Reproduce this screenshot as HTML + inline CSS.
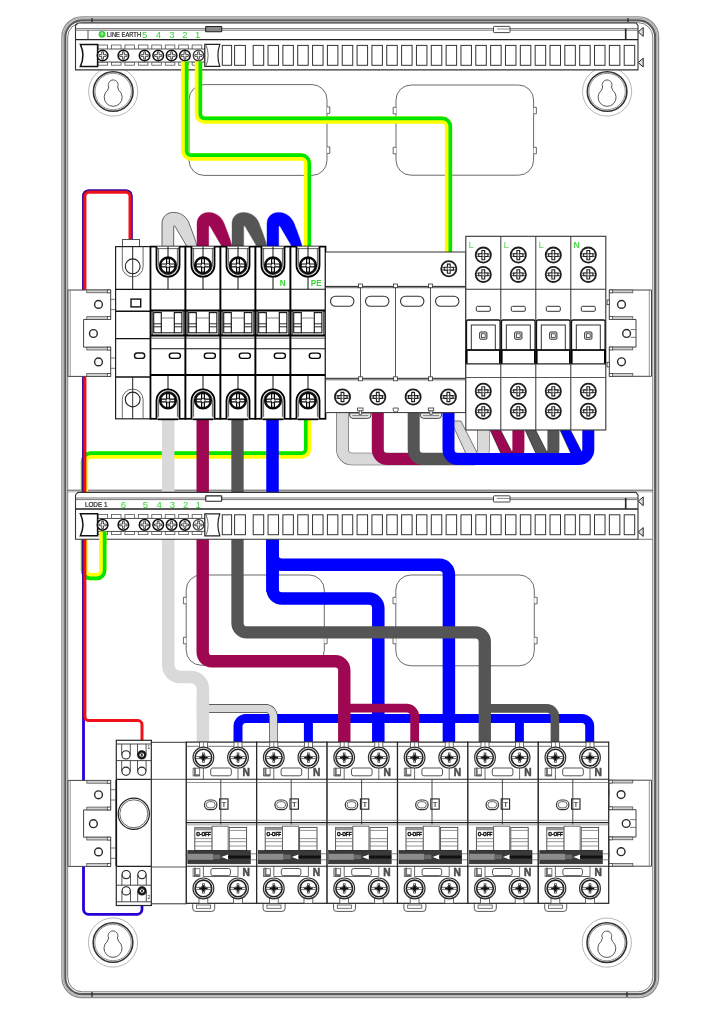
<!DOCTYPE html>
<html lang="en"><head><meta charset="utf-8"><title>Wiring diagram</title>
<style>html,body{margin:0;padding:0;background:#fff}svg{display:block;will-change:transform}</style></head>
<body>
<svg width="724" height="1024" viewBox="0 0 724 1024" font-family="'Liberation Sans', sans-serif">
<rect width="724" height="1024" fill="#fff"/>
<rect x="61.9" y="16.9" width="596.7" height="980.7" rx="20" fill="#fff" stroke="#8c8c8c" stroke-width="1.3"/>
<rect x="63.4" y="18.4" width="593.7" height="977.7" rx="18.6" fill="none" stroke="#b0b0b0" stroke-width="1.4"/>
<rect x="65.3" y="20.3" width="589.9" height="973.9" rx="16.8" fill="none" stroke="#5a5a5a" stroke-width="2.2"/>
<rect x="67.7" y="22.7" width="585.1" height="969.1" rx="14.5" fill="none" stroke="#6a6a6a" stroke-width="0.9"/>
<line x1="92" y1="18" x2="92" y2="22" stroke="#222" stroke-width="1.2"/>
<line x1="92" y1="992" x2="92" y2="997" stroke="#222" stroke-width="1.2"/>
<line x1="628" y1="18" x2="628" y2="22" stroke="#222" stroke-width="1.2"/>
<line x1="627" y1="992" x2="627" y2="997" stroke="#222" stroke-width="1.2"/>
<line x1="67.5" y1="490.2" x2="653" y2="490.2" stroke="#444" stroke-width="0.9"/>
<line x1="67.5" y1="491.9" x2="653" y2="491.9" stroke="#888" stroke-width="0.7"/>
<rect x="189" y="84.6" width="138" height="90.8" rx="15" fill="none" stroke="#444" stroke-width="0.8"/>
<path d="M327,106.9 h2.8 v6.5 h-2.8" fill="#fff" stroke="#444" stroke-width="0.8"/>
<path d="M327,146.9 h2.8 v6.5 h-2.8" fill="#fff" stroke="#444" stroke-width="0.8"/>
<rect x="396" y="85" width="137.6" height="90.2" rx="15" fill="none" stroke="#444" stroke-width="0.8"/>
<path d="M396,107.3 h-2.8 v6.5 h2.8" fill="#fff" stroke="#444" stroke-width="0.8"/>
<path d="M533.6,107.3 h2.8 v6.5 h-2.8" fill="#fff" stroke="#444" stroke-width="0.8"/>
<path d="M396,147.3 h-2.8 v6.5 h2.8" fill="#fff" stroke="#444" stroke-width="0.8"/>
<path d="M533.6,147.3 h2.8 v6.5 h-2.8" fill="#fff" stroke="#444" stroke-width="0.8"/>
<rect x="186.2" y="575" width="138.1" height="90.2" rx="15" fill="none" stroke="#444" stroke-width="0.8"/>
<path d="M186.2,597.3 h-2.8 v6.5 h2.8" fill="#fff" stroke="#444" stroke-width="0.8"/>
<path d="M324.3,597.3 h2.8 v6.5 h-2.8" fill="#fff" stroke="#444" stroke-width="0.8"/>
<path d="M186.2,637.3 h-2.8 v6.5 h2.8" fill="#fff" stroke="#444" stroke-width="0.8"/>
<path d="M324.3,637.3 h2.8 v6.5 h-2.8" fill="#fff" stroke="#444" stroke-width="0.8"/>
<rect x="395.8" y="575" width="138.5" height="90.8" rx="15" fill="none" stroke="#444" stroke-width="0.8"/>
<path d="M395.8,597.3 h-2.8 v6.5 h2.8" fill="#fff" stroke="#444" stroke-width="0.8"/>
<path d="M534.3,597.3 h2.8 v6.5 h-2.8" fill="#fff" stroke="#444" stroke-width="0.8"/>
<path d="M395.8,637.3 h-2.8 v6.5 h2.8" fill="#fff" stroke="#444" stroke-width="0.8"/>
<path d="M534.3,637.3 h2.8 v6.5 h-2.8" fill="#fff" stroke="#444" stroke-width="0.8"/>
<circle cx="113.2" cy="91.5" r="24.6" fill="none" stroke="#999" stroke-width="0.7"/>
<circle cx="113.2" cy="91.5" r="19.8" fill="none" stroke="#333" stroke-width="1.6"/>
<circle cx="113.2" cy="91.5" r="18.2" fill="none" stroke="#666" stroke-width="0.7"/>
<path d="M108.8,87 A4.9,4.9 0 1 1 117.6,87 L118.8,90.3 A9,9 0 1 1 107.6,90.3 Z" fill="#fff" stroke="#444" stroke-width="0.9"/>
<circle cx="607.1" cy="91.5" r="24.6" fill="none" stroke="#999" stroke-width="0.7"/>
<circle cx="607.1" cy="91.5" r="19.8" fill="none" stroke="#333" stroke-width="1.6"/>
<circle cx="607.1" cy="91.5" r="18.2" fill="none" stroke="#666" stroke-width="0.7"/>
<path d="M602.7,87 A4.9,4.9 0 1 1 611.5,87 L612.7,90.3 A9,9 0 1 1 601.5,90.3 Z" fill="#fff" stroke="#444" stroke-width="0.9"/>
<circle cx="113" cy="942.5" r="24.6" fill="none" stroke="#999" stroke-width="0.7"/>
<circle cx="113" cy="942.5" r="19.8" fill="none" stroke="#333" stroke-width="1.6"/>
<circle cx="113" cy="942.5" r="18.2" fill="none" stroke="#666" stroke-width="0.7"/>
<path d="M108.6,938 A4.9,4.9 0 1 1 117.4,938 L118.6,941.3 A9,9 0 1 1 107.4,941.3 Z" fill="#fff" stroke="#444" stroke-width="0.9"/>
<circle cx="606.8" cy="942.6" r="24.6" fill="none" stroke="#999" stroke-width="0.7"/>
<circle cx="606.8" cy="942.6" r="19.8" fill="none" stroke="#333" stroke-width="1.6"/>
<circle cx="606.8" cy="942.6" r="18.2" fill="none" stroke="#666" stroke-width="0.7"/>
<path d="M602.4,938.1 A4.9,4.9 0 1 1 611.2,938.1 L612.4,941.4 A9,9 0 1 1 601.2,941.4 Z" fill="#fff" stroke="#444" stroke-width="0.9"/>
<path d="M307.6,418 L307.6,449 A6,6 0 0 1 301.6,455 L90.5,455 A6,6 0 0 0 84.5,461 L84.5,570.6 A6,6 0 0 0 90.5,576.6 L96.8,576.6 A6,6 0 0 0 102.8,570.6 L102.8,540" fill="none" stroke="#ffff00" stroke-width="7.3" stroke-linecap="butt"/>
<path d="M305.78,418 L305.78,449 A4.17,4.17 0 0 1 301.6,453.18 L90.5,453.18 A7.83,7.83 0 0 0 82.67,461 L82.67,570.6 A7.83,7.83 0 0 0 90.5,578.43 L96.8,578.43 A7.83,7.83 0 0 0 104.62,570.6 L104.62,540" fill="none" stroke="#00e600" stroke-width="3.65"/>
<path d="M131.2,240 L131.2,195.9 A5,5 0 0 0 126.2,190.9 L88.5,190.9 A5,5 0 0 0 83.5,195.9 L83.5,909.3 A5,5 0 0 0 88.5,914.3 L137,914.3 A5,5 0 0 0 142,909.3 L142,896" fill="none" stroke="#2a00d8" stroke-width="2.8" stroke-linecap="butt"/>
<path d="M131.2,240 L131.2,195.9 A5,5 0 0 0 126.2,190.9 L88.5,190.9 A5,5 0 0 0 83.5,195.9 L83.5,718" fill="none" stroke="#4b0a8c" stroke-width="2.8" stroke-linecap="butt"/>
<path d="M130,240 L130,196.3 A4,4 0 0 0 126,192.3 L88.9,192.3 A4,4 0 0 0 84.9,196.3 L84.9,716.6 A4,4 0 0 0 88.9,720.6 L138,720.6 A4,4 0 0 1 142,724.6 L142,750" fill="none" stroke="#f0101a" stroke-width="3" stroke-linecap="butt"/>
<path d="M162,247 L162,224 C162,216.5 167,212.4 173.6,212.4 C182,212.4 187.5,218 189.7,225 C192,231 195.6,240 197.2,247 L187.2,247 L175.2,226.6 Q173.7,224.2 173.7,228 L173.7,247 Z" fill="#d9d9d9" stroke="#555" stroke-width="0.9"/>
<path d="M197,247 L197,224 C197,216.5 202,212.4 208.6,212.4 C217,212.4 222.5,218 224.7,225 C227,231 230.6,240 232.2,247 L222.2,247 L210.2,226.6 Q208.7,224.2 208.7,228 L208.7,247 Z" fill="#9e0852" stroke="#9e0852" stroke-width="0.4"/>
<path d="M232,247 L232,224 C232,216.5 237,212.4 243.6,212.4 C252,212.4 257.5,218 259.7,225 C262,231 265.6,240 267.2,247 L257.2,247 L245.2,226.6 Q243.7,224.2 243.7,228 L243.7,247 Z" fill="#555555" stroke="#555555" stroke-width="0.4"/>
<path d="M267,247 L267,224 C267,216.5 272,212.4 278.6,212.4 C287,212.4 292.5,218 294.7,225 C297,231 300.6,240 302.2,247 L292.2,247 L280.2,226.6 Q278.7,224.2 278.7,228 L278.7,247 Z" fill="#0000ff" stroke="#0000ff" stroke-width="0.4"/>
<path d="M184.8,60 L184.8,151 A6,6 0 0 0 190.8,157 L301.5,157 A6,6 0 0 1 307.5,163 L307.5,247" fill="none" stroke="#ffff00" stroke-width="7.3" stroke-linecap="butt"/>
<path d="M186.62,60 L186.62,151 A4.17,4.17 0 0 0 190.8,155.18 L301.5,155.18 A7.83,7.83 0 0 1 309.32,163 L309.32,247" fill="none" stroke="#00e600" stroke-width="3.65"/>
<path d="M198.5,60 L198.5,114.2 A6,6 0 0 0 204.5,120.2 L442.5,120.2 A6,6 0 0 1 448.5,126.2 L448.5,252.5" fill="none" stroke="#ffff00" stroke-width="7.3" stroke-linecap="butt"/>
<path d="M200.32,60 L200.32,114.2 A4.17,4.17 0 0 0 204.5,118.38 L442.5,118.38 A7.83,7.83 0 0 1 450.32,126.2 L450.32,252.5" fill="none" stroke="#00e600" stroke-width="3.65"/>
<path d="M342.5,412 L342.5,449.5 A9.5,9.5 0 0 0 352,459 L473.8,459 A9.5,9.5 0 0 0 483.3,449.5 L483.3,428" fill="none" stroke="#555" stroke-width="12.6" stroke-linecap="butt"/>
<path d="M342.5,412 L342.5,449.5 A9.5,9.5 0 0 0 352,459 L473.8,459 A9.5,9.5 0 0 0 483.3,449.5 L483.3,428" fill="none" stroke="#d9d9d9" stroke-width="11.4" stroke-linecap="butt"/>
<path d="M450.9,421 L460.9,421 L477.7,454 L466.1,454 Z" fill="#d9d9d9" stroke="#444" stroke-width="0.7"/>
<path d="M377.8,412 L377.8,449.5 A9.5,9.5 0 0 0 387.3,459 L508.9,459 A9.5,9.5 0 0 0 518.4,449.5 L518.4,428" fill="none" stroke="#9e0852" stroke-width="12" stroke-linecap="butt"/>
<path d="M486,421 L496,421 L512.8,454 L501.2,454 Z" fill="#9e0852" stroke="#222" stroke-width="0.7"/>
<path d="M413.7,412 L413.7,449.5 A9.5,9.5 0 0 0 423.2,459 L543.9,459 A9.5,9.5 0 0 0 553.4,449.5 L553.4,428" fill="none" stroke="#555555" stroke-width="12" stroke-linecap="butt"/>
<path d="M521,421 L531,421 L547.8,454 L536.2,454 Z" fill="#555555" stroke="#222" stroke-width="0.7"/>
<path d="M555.9,421 L565.9,421 L582.7,454 L571.1,454 Z" fill="#0000ff" stroke="#222" stroke-width="0.7"/>
<path d="M448.5,412 L448.5,449.5 A9.5,9.5 0 0 0 458,459 L578.8,459 A9.5,9.5 0 0 0 588.3,449.5 L588.3,428" fill="none" stroke="#0000ff" stroke-width="12" stroke-linecap="butt"/>
<path d="M272.5,418 L272.5,589.1 A9.5,9.5 0 0 0 282,598.6 L368.8,598.6 A9.5,9.5 0 0 1 378.3,608.1 L378.3,743" fill="none" stroke="#0000ff" stroke-width="12.5" stroke-linecap="butt"/>
<path d="M272.5,540 L272.5,555.3 A9.5,9.5 0 0 0 282,564.8 L439.4,564.8 A9.5,9.5 0 0 1 448.9,574.3 L448.9,743" fill="none" stroke="#0000ff" stroke-width="12.5" stroke-linecap="butt"/>
<rect x="266.25" y="540" width="12.5" height="52" rx="0" fill="#0000ff" stroke="none" stroke-width="0"/>
<path d="M238,743 L238,726.4 A8,8 0 0 1 246,718.4 L581.7,718.4 A8,8 0 0 1 589.7,726.4 L589.7,743" fill="none" stroke="#0000ff" stroke-width="9" stroke-linecap="butt"/>
<path d="M308.4,743 L308.4,718.4" fill="none" stroke="#0000ff" stroke-width="9" stroke-linecap="butt"/>
<path d="M519.4,743 L519.4,718.4" fill="none" stroke="#0000ff" stroke-width="9" stroke-linecap="butt"/>
<path d="M168.2,418 L168.2,665 A12,12 0 0 0 180.2,677 L190.9,677 A12,12 0 0 1 202.9,689 L202.9,743" fill="none" stroke="#d9d9d9" stroke-width="12.5" stroke-linecap="butt"/>
<path d="M205,708.4 L265.4,708.4 A8,8 0 0 1 273.4,716.4 L273.4,743" fill="none" stroke="#333" stroke-width="8.6" stroke-linecap="butt"/>
<path d="M205,708.4 L265.4,708.4 A8,8 0 0 1 273.4,716.4 L273.4,743" fill="none" stroke="#d9d9d9" stroke-width="7.4" stroke-linecap="butt"/>
<rect x="196.7" y="700" width="12.4" height="16" rx="0" fill="#d9d9d9" stroke="none" stroke-width="0"/>
<path d="M202.7,418 L202.7,652.3 A9,9 0 0 0 211.7,661.3 L335.3,661.3 A9,9 0 0 1 344.3,670.3 L344.3,743" fill="none" stroke="#9e0852" stroke-width="12.4" stroke-linecap="butt"/>
<path d="M344.3,708.2 L406.7,708.2 A8,8 0 0 1 414.7,716.2 L414.7,743" fill="none" stroke="#9e0852" stroke-width="8.8" stroke-linecap="butt"/>
<path d="M237.5,418 L237.5,622.9 A9.5,9.5 0 0 0 247,632.4 L475.3,632.4 A9.5,9.5 0 0 1 484.8,641.9 L484.8,743" fill="none" stroke="#555555" stroke-width="12.3" stroke-linecap="butt"/>
<path d="M484.8,708.4 L546.9,708.4 A8,8 0 0 1 554.9,716.4 L554.9,743" fill="none" stroke="#555555" stroke-width="8.6" stroke-linecap="butt"/>
<path d="M78,23 L636,23 L638,25.5 L638,69.9 L75.5,69.9 L75.5,25.5 Z" fill="#fff" stroke="#333" stroke-width="1.1"/>
<line x1="75.5" y1="28.6" x2="638" y2="28.6" stroke="#555" stroke-width="0.8"/>
<line x1="75.5" y1="30.2" x2="638" y2="30.2" stroke="#555" stroke-width="0.8"/>
<line x1="75.5" y1="39.6" x2="638" y2="39.6" stroke="#222" stroke-width="1.4"/>
<line x1="88" y1="30.2" x2="88" y2="39.6" stroke="#444" stroke-width="0.9"/>
<line x1="625.7" y1="28.6" x2="625.7" y2="39.6" stroke="#222" stroke-width="1.6"/>
<path d="M638.2,31.9 l5,-4.4 v8.8 z" fill="#e4e4e4" stroke="#222" stroke-width="1"/>
<path d="M638.2,62.6 l5,-4.4 v8.8 z" fill="#e4e4e4" stroke="#222" stroke-width="1"/>
<rect x="205.7" y="26.5" width="16" height="5.3" rx="0.5" fill="#888" stroke="#222" stroke-width="1.1"/>
<rect x="493.5" y="26.4" width="16.5" height="6.2" rx="0.8" fill="#fff" stroke="#333" stroke-width="0.9"/>
<line x1="497" y1="29" x2="510" y2="29" stroke="#555" stroke-width="0.7"/>
<rect x="222.3" y="45.4" width="9.3" height="19.9" rx="0" fill="none" stroke="#333" stroke-width="1"/>
<rect x="234.6" y="45.4" width="10.8" height="19.9" rx="0" fill="none" stroke="#333" stroke-width="1"/>
<rect x="253.2" y="45.4" width="10.5" height="19.9" rx="0" fill="none" stroke="#333" stroke-width="1"/>
<rect x="268.04" y="45.4" width="10.5" height="19.9" rx="0" fill="none" stroke="#333" stroke-width="1"/>
<rect x="282.88" y="45.4" width="10.5" height="19.9" rx="0" fill="none" stroke="#333" stroke-width="1"/>
<rect x="297.72" y="45.4" width="10.5" height="19.9" rx="0" fill="none" stroke="#333" stroke-width="1"/>
<rect x="312.56" y="45.4" width="10.5" height="19.9" rx="0" fill="none" stroke="#333" stroke-width="1"/>
<rect x="327.4" y="45.4" width="10.5" height="19.9" rx="0" fill="none" stroke="#333" stroke-width="1"/>
<rect x="342.24" y="45.4" width="10.5" height="19.9" rx="0" fill="none" stroke="#333" stroke-width="1"/>
<rect x="357.08" y="45.4" width="10.5" height="19.9" rx="0" fill="none" stroke="#333" stroke-width="1"/>
<rect x="371.92" y="45.4" width="10.5" height="19.9" rx="0" fill="none" stroke="#333" stroke-width="1"/>
<rect x="386.76" y="45.4" width="10.5" height="19.9" rx="0" fill="none" stroke="#333" stroke-width="1"/>
<rect x="401.6" y="45.4" width="10.5" height="19.9" rx="0" fill="none" stroke="#333" stroke-width="1"/>
<rect x="416.44" y="45.4" width="10.5" height="19.9" rx="0" fill="none" stroke="#333" stroke-width="1"/>
<rect x="431.28" y="45.4" width="10.5" height="19.9" rx="0" fill="none" stroke="#333" stroke-width="1"/>
<rect x="446.12" y="45.4" width="10.5" height="19.9" rx="0" fill="none" stroke="#333" stroke-width="1"/>
<rect x="460.96" y="45.4" width="10.5" height="19.9" rx="0" fill="none" stroke="#333" stroke-width="1"/>
<rect x="475.8" y="45.4" width="10.5" height="19.9" rx="0" fill="none" stroke="#333" stroke-width="1"/>
<rect x="490.64" y="45.4" width="10.5" height="19.9" rx="0" fill="none" stroke="#333" stroke-width="1"/>
<rect x="505.48" y="45.4" width="10.5" height="19.9" rx="0" fill="none" stroke="#333" stroke-width="1"/>
<rect x="520.32" y="45.4" width="10.5" height="19.9" rx="0" fill="none" stroke="#333" stroke-width="1"/>
<rect x="535.16" y="45.4" width="10.5" height="19.9" rx="0" fill="none" stroke="#333" stroke-width="1"/>
<rect x="550" y="45.4" width="10.5" height="19.9" rx="0" fill="none" stroke="#333" stroke-width="1"/>
<rect x="564.84" y="45.4" width="10.5" height="19.9" rx="0" fill="none" stroke="#333" stroke-width="1"/>
<rect x="579.68" y="45.4" width="10.5" height="19.9" rx="0" fill="none" stroke="#333" stroke-width="1"/>
<rect x="594.52" y="45.4" width="10.5" height="19.9" rx="0" fill="none" stroke="#333" stroke-width="1"/>
<rect x="609.36" y="45.4" width="10.5" height="19.9" rx="0" fill="none" stroke="#333" stroke-width="1"/>
<rect x="624.2" y="45.4" width="10.5" height="19.9" rx="0" fill="none" stroke="#333" stroke-width="1"/>
<rect x="98" y="45" width="9.6" height="4.4" rx="0" fill="none" stroke="#555" stroke-width="0.8"/>
<rect x="98" y="62" width="9.6" height="3.2" rx="0" fill="none" stroke="#555" stroke-width="0.8"/>
<rect x="111.45" y="45" width="9.6" height="4.4" rx="0" fill="none" stroke="#555" stroke-width="0.8"/>
<rect x="111.45" y="62" width="9.6" height="3.2" rx="0" fill="none" stroke="#555" stroke-width="0.8"/>
<rect x="124.9" y="45" width="9.6" height="4.4" rx="0" fill="none" stroke="#555" stroke-width="0.8"/>
<rect x="124.9" y="62" width="9.6" height="3.2" rx="0" fill="none" stroke="#555" stroke-width="0.8"/>
<rect x="138.35" y="45" width="9.6" height="4.4" rx="0" fill="none" stroke="#555" stroke-width="0.8"/>
<rect x="138.35" y="62" width="9.6" height="3.2" rx="0" fill="none" stroke="#555" stroke-width="0.8"/>
<rect x="151.8" y="45" width="9.6" height="4.4" rx="0" fill="none" stroke="#555" stroke-width="0.8"/>
<rect x="151.8" y="62" width="9.6" height="3.2" rx="0" fill="none" stroke="#555" stroke-width="0.8"/>
<rect x="165.25" y="45" width="9.6" height="4.4" rx="0" fill="none" stroke="#555" stroke-width="0.8"/>
<rect x="165.25" y="62" width="9.6" height="3.2" rx="0" fill="none" stroke="#555" stroke-width="0.8"/>
<rect x="178.7" y="45" width="9.6" height="4.4" rx="0" fill="none" stroke="#555" stroke-width="0.8"/>
<rect x="178.7" y="62" width="9.6" height="3.2" rx="0" fill="none" stroke="#555" stroke-width="0.8"/>
<rect x="192.15" y="45" width="9.6" height="4.4" rx="0" fill="none" stroke="#555" stroke-width="0.8"/>
<rect x="192.15" y="62" width="9.6" height="3.2" rx="0" fill="none" stroke="#555" stroke-width="0.8"/>
<rect x="97.6" y="49" width="107.4" height="13" rx="0" fill="#fff" stroke="#444" stroke-width="0.9"/>
<path d="M80.4,44.4 H97.6 V66.4 H80.4 Q85.5,55.4 80.4,44.4 Z" fill="#fff" stroke="#111" stroke-width="1.5"/>
<path d="M219.8,44.4 H204.8 V66.4 H219.8 Q216,55.4 219.8,44.4 Z" fill="#fff" stroke="#222" stroke-width="1.2"/>
<path d="M206.2,45.4 Q210,55.4 206.2,65.4" fill="none" stroke="#444" stroke-width="0.8"/>
<circle cx="102.6" cy="55.5" r="5.3" fill="#fff" stroke="#111" stroke-width="1.5"/>
<path d="M101.75,51.8 h1.7 v2.85 h2.85 v1.7 h-2.85 v2.85 h-1.7 v-2.85 h-2.85 v-1.7 h2.85 z" fill="#fff" stroke="#222" stroke-width="0.8"/>
<circle cx="123.4" cy="55.5" r="5.3" fill="#fff" stroke="#111" stroke-width="1.5"/>
<path d="M122.55,51.8 h1.7 v2.85 h2.85 v1.7 h-2.85 v2.85 h-1.7 v-2.85 h-2.85 v-1.7 h2.85 z" fill="#fff" stroke="#222" stroke-width="0.8"/>
<circle cx="144.6" cy="55.5" r="5.3" fill="#fff" stroke="#111" stroke-width="1.5"/>
<path d="M143.75,51.8 h1.7 v2.85 h2.85 v1.7 h-2.85 v2.85 h-1.7 v-2.85 h-2.85 v-1.7 h2.85 z" fill="#fff" stroke="#222" stroke-width="0.8"/>
<circle cx="158.2" cy="55.5" r="5.3" fill="#fff" stroke="#111" stroke-width="1.5"/>
<path d="M157.35,51.8 h1.7 v2.85 h2.85 v1.7 h-2.85 v2.85 h-1.7 v-2.85 h-2.85 v-1.7 h2.85 z" fill="#fff" stroke="#222" stroke-width="0.8"/>
<circle cx="171.6" cy="55.5" r="5.3" fill="#fff" stroke="#111" stroke-width="1.5"/>
<path d="M170.75,51.8 h1.7 v2.85 h2.85 v1.7 h-2.85 v2.85 h-1.7 v-2.85 h-2.85 v-1.7 h2.85 z" fill="#fff" stroke="#222" stroke-width="0.8"/>
<circle cx="184.9" cy="55.5" r="5.3" fill="#fff" stroke="#111" stroke-width="1.5"/>
<path d="M184.05,51.8 h1.7 v2.85 h2.85 v1.7 h-2.85 v2.85 h-1.7 v-2.85 h-2.85 v-1.7 h2.85 z" fill="#fff" stroke="#222" stroke-width="0.8"/>
<circle cx="198.5" cy="55.5" r="5.3" fill="#fff" stroke="#333" stroke-width="1.2"/>
<path d="M197.65,51.8 h1.7 v2.85 h2.85 v1.7 h-2.85 v2.85 h-1.7 v-2.85 h-2.85 v-1.7 h2.85 z" fill="#fff" stroke="#222" stroke-width="0.8"/>
<text x="144.6" y="38.2" font-size="9.6" fill="#35d335" font-weight="normal" text-anchor="middle">5</text>
<text x="158.4" y="38.2" font-size="9.6" fill="#35d335" font-weight="normal" text-anchor="middle">4</text>
<text x="171.8" y="38.2" font-size="9.6" fill="#35d335" font-weight="normal" text-anchor="middle">3</text>
<text x="185" y="38.2" font-size="9.6" fill="#35d335" font-weight="normal" text-anchor="middle">2</text>
<text x="197.6" y="38.2" font-size="9.6" fill="#35d335" font-weight="normal" text-anchor="middle">1</text>
<circle cx="102" cy="34.3" r="3.4" fill="#2fd02f"/>
<path d="M100.2,33.8 h3.6 M100.9,35 h2.2 M102,32 v1.8" stroke="#fff" stroke-width="0.6" fill="none"/>
<text x="107.1" y="36.9" font-size="6.9" fill="#222" font-weight="normal" text-anchor="start" textLength="34" lengthAdjust="spacingAndGlyphs" stroke="#222" stroke-width="0.2">LINE EARTH</text>
<path d="M78,492.4 L636,492.4 L638,494.9 L638,539.3 L75.5,539.3 L75.5,494.9 Z" fill="#fff" stroke="#333" stroke-width="1.1"/>
<line x1="75.5" y1="498" x2="638" y2="498" stroke="#555" stroke-width="0.8"/>
<line x1="75.5" y1="499.6" x2="638" y2="499.6" stroke="#555" stroke-width="0.8"/>
<line x1="75.5" y1="509" x2="638" y2="509" stroke="#222" stroke-width="1.4"/>
<line x1="625.7" y1="498" x2="625.7" y2="509" stroke="#222" stroke-width="1.6"/>
<path d="M638.2,501.3 l5,-4.4 v8.8 z" fill="#e4e4e4" stroke="#222" stroke-width="1"/>
<path d="M638.2,532 l5,-4.4 v8.8 z" fill="#e4e4e4" stroke="#222" stroke-width="1"/>
<line x1="638" y1="539.3" x2="652.5" y2="539.3" stroke="#555" stroke-width="0.8"/>
<rect x="205.7" y="495.9" width="16" height="5.3" rx="0.5" fill="#fff" stroke="#222" stroke-width="1.1"/>
<rect x="493.5" y="495.8" width="16.5" height="6.2" rx="0.8" fill="#fff" stroke="#333" stroke-width="0.9"/>
<line x1="497" y1="498.4" x2="510" y2="498.4" stroke="#555" stroke-width="0.7"/>
<rect x="222.3" y="514.8" width="9.3" height="19.9" rx="0" fill="none" stroke="#333" stroke-width="1"/>
<rect x="234.6" y="514.8" width="10.8" height="19.9" rx="0" fill="none" stroke="#333" stroke-width="1"/>
<rect x="253.2" y="514.8" width="10.5" height="19.9" rx="0" fill="none" stroke="#333" stroke-width="1"/>
<rect x="268.04" y="514.8" width="10.5" height="19.9" rx="0" fill="none" stroke="#333" stroke-width="1"/>
<rect x="282.88" y="514.8" width="10.5" height="19.9" rx="0" fill="none" stroke="#333" stroke-width="1"/>
<rect x="297.72" y="514.8" width="10.5" height="19.9" rx="0" fill="none" stroke="#333" stroke-width="1"/>
<rect x="312.56" y="514.8" width="10.5" height="19.9" rx="0" fill="none" stroke="#333" stroke-width="1"/>
<rect x="327.4" y="514.8" width="10.5" height="19.9" rx="0" fill="none" stroke="#333" stroke-width="1"/>
<rect x="342.24" y="514.8" width="10.5" height="19.9" rx="0" fill="none" stroke="#333" stroke-width="1"/>
<rect x="357.08" y="514.8" width="10.5" height="19.9" rx="0" fill="none" stroke="#333" stroke-width="1"/>
<rect x="371.92" y="514.8" width="10.5" height="19.9" rx="0" fill="none" stroke="#333" stroke-width="1"/>
<rect x="386.76" y="514.8" width="10.5" height="19.9" rx="0" fill="none" stroke="#333" stroke-width="1"/>
<rect x="401.6" y="514.8" width="10.5" height="19.9" rx="0" fill="none" stroke="#333" stroke-width="1"/>
<rect x="416.44" y="514.8" width="10.5" height="19.9" rx="0" fill="none" stroke="#333" stroke-width="1"/>
<rect x="431.28" y="514.8" width="10.5" height="19.9" rx="0" fill="none" stroke="#333" stroke-width="1"/>
<rect x="446.12" y="514.8" width="10.5" height="19.9" rx="0" fill="none" stroke="#333" stroke-width="1"/>
<rect x="460.96" y="514.8" width="10.5" height="19.9" rx="0" fill="none" stroke="#333" stroke-width="1"/>
<rect x="475.8" y="514.8" width="10.5" height="19.9" rx="0" fill="none" stroke="#333" stroke-width="1"/>
<rect x="490.64" y="514.8" width="10.5" height="19.9" rx="0" fill="none" stroke="#333" stroke-width="1"/>
<rect x="505.48" y="514.8" width="10.5" height="19.9" rx="0" fill="none" stroke="#333" stroke-width="1"/>
<rect x="520.32" y="514.8" width="10.5" height="19.9" rx="0" fill="none" stroke="#333" stroke-width="1"/>
<rect x="535.16" y="514.8" width="10.5" height="19.9" rx="0" fill="none" stroke="#333" stroke-width="1"/>
<rect x="550" y="514.8" width="10.5" height="19.9" rx="0" fill="none" stroke="#333" stroke-width="1"/>
<rect x="564.84" y="514.8" width="10.5" height="19.9" rx="0" fill="none" stroke="#333" stroke-width="1"/>
<rect x="579.68" y="514.8" width="10.5" height="19.9" rx="0" fill="none" stroke="#333" stroke-width="1"/>
<rect x="594.52" y="514.8" width="10.5" height="19.9" rx="0" fill="none" stroke="#333" stroke-width="1"/>
<rect x="609.36" y="514.8" width="10.5" height="19.9" rx="0" fill="none" stroke="#333" stroke-width="1"/>
<rect x="624.2" y="514.8" width="10.5" height="19.9" rx="0" fill="none" stroke="#333" stroke-width="1"/>
<rect x="98" y="514.4" width="9.6" height="4.4" rx="0" fill="none" stroke="#555" stroke-width="0.8"/>
<rect x="98" y="531.4" width="9.6" height="3.2" rx="0" fill="none" stroke="#555" stroke-width="0.8"/>
<rect x="111.45" y="514.4" width="9.6" height="4.4" rx="0" fill="none" stroke="#555" stroke-width="0.8"/>
<rect x="111.45" y="531.4" width="9.6" height="3.2" rx="0" fill="none" stroke="#555" stroke-width="0.8"/>
<rect x="124.9" y="514.4" width="9.6" height="4.4" rx="0" fill="none" stroke="#555" stroke-width="0.8"/>
<rect x="124.9" y="531.4" width="9.6" height="3.2" rx="0" fill="none" stroke="#555" stroke-width="0.8"/>
<rect x="138.35" y="514.4" width="9.6" height="4.4" rx="0" fill="none" stroke="#555" stroke-width="0.8"/>
<rect x="138.35" y="531.4" width="9.6" height="3.2" rx="0" fill="none" stroke="#555" stroke-width="0.8"/>
<rect x="151.8" y="514.4" width="9.6" height="4.4" rx="0" fill="none" stroke="#555" stroke-width="0.8"/>
<rect x="151.8" y="531.4" width="9.6" height="3.2" rx="0" fill="none" stroke="#555" stroke-width="0.8"/>
<rect x="165.25" y="514.4" width="9.6" height="4.4" rx="0" fill="none" stroke="#555" stroke-width="0.8"/>
<rect x="165.25" y="531.4" width="9.6" height="3.2" rx="0" fill="none" stroke="#555" stroke-width="0.8"/>
<rect x="178.7" y="514.4" width="9.6" height="4.4" rx="0" fill="none" stroke="#555" stroke-width="0.8"/>
<rect x="178.7" y="531.4" width="9.6" height="3.2" rx="0" fill="none" stroke="#555" stroke-width="0.8"/>
<rect x="192.15" y="514.4" width="9.6" height="4.4" rx="0" fill="none" stroke="#555" stroke-width="0.8"/>
<rect x="192.15" y="531.4" width="9.6" height="3.2" rx="0" fill="none" stroke="#555" stroke-width="0.8"/>
<rect x="97.6" y="518.4" width="107.4" height="13" rx="0" fill="#fff" stroke="#444" stroke-width="0.9"/>
<path d="M80.4,513.8 H97.6 V535.8 H80.4 Q85.5,524.8 80.4,513.8 Z" fill="#fff" stroke="#111" stroke-width="1.5"/>
<path d="M219.8,513.8 H204.8 V535.8 H219.8 Q216,524.8 219.8,513.8 Z" fill="#fff" stroke="#222" stroke-width="1.2"/>
<path d="M206.2,514.8 Q210,524.8 206.2,534.8" fill="none" stroke="#444" stroke-width="0.8"/>
<circle cx="102.6" cy="524.9" r="5.3" fill="#fff" stroke="#111" stroke-width="1.5"/>
<path d="M101.75,521.2 h1.7 v2.85 h2.85 v1.7 h-2.85 v2.85 h-1.7 v-2.85 h-2.85 v-1.7 h2.85 z" fill="#fff" stroke="#222" stroke-width="0.8"/>
<circle cx="123.4" cy="524.9" r="5.3" fill="#fff" stroke="#111" stroke-width="1.5"/>
<path d="M122.55,521.2 h1.7 v2.85 h2.85 v1.7 h-2.85 v2.85 h-1.7 v-2.85 h-2.85 v-1.7 h2.85 z" fill="#fff" stroke="#222" stroke-width="0.8"/>
<circle cx="144.6" cy="524.9" r="5.3" fill="#fff" stroke="#111" stroke-width="1.5"/>
<path d="M143.75,521.2 h1.7 v2.85 h2.85 v1.7 h-2.85 v2.85 h-1.7 v-2.85 h-2.85 v-1.7 h2.85 z" fill="#fff" stroke="#222" stroke-width="0.8"/>
<circle cx="158.2" cy="524.9" r="5.3" fill="#fff" stroke="#111" stroke-width="1.5"/>
<path d="M157.35,521.2 h1.7 v2.85 h2.85 v1.7 h-2.85 v2.85 h-1.7 v-2.85 h-2.85 v-1.7 h2.85 z" fill="#fff" stroke="#222" stroke-width="0.8"/>
<circle cx="171.6" cy="524.9" r="5.3" fill="#fff" stroke="#111" stroke-width="1.5"/>
<path d="M170.75,521.2 h1.7 v2.85 h2.85 v1.7 h-2.85 v2.85 h-1.7 v-2.85 h-2.85 v-1.7 h2.85 z" fill="#fff" stroke="#222" stroke-width="0.8"/>
<circle cx="184.9" cy="524.9" r="5.3" fill="#fff" stroke="#111" stroke-width="1.5"/>
<path d="M184.05,521.2 h1.7 v2.85 h2.85 v1.7 h-2.85 v2.85 h-1.7 v-2.85 h-2.85 v-1.7 h2.85 z" fill="#fff" stroke="#222" stroke-width="0.8"/>
<circle cx="198.5" cy="524.9" r="5.3" fill="#fff" stroke="#333" stroke-width="1.2"/>
<path d="M197.65,521.2 h1.7 v2.85 h2.85 v1.7 h-2.85 v2.85 h-1.7 v-2.85 h-2.85 v-1.7 h2.85 z" fill="#fff" stroke="#222" stroke-width="0.8"/>
<text x="123.4" y="507.6" font-size="9.6" fill="#35d335" font-weight="normal" text-anchor="middle">6</text>
<text x="145.4" y="507.6" font-size="9.6" fill="#35d335" font-weight="normal" text-anchor="middle">5</text>
<text x="159.2" y="507.6" font-size="9.6" fill="#35d335" font-weight="normal" text-anchor="middle">4</text>
<text x="172.4" y="507.6" font-size="9.6" fill="#35d335" font-weight="normal" text-anchor="middle">3</text>
<text x="185.6" y="507.6" font-size="9.6" fill="#35d335" font-weight="normal" text-anchor="middle">2</text>
<text x="198.2" y="507.6" font-size="9.6" fill="#35d335" font-weight="normal" text-anchor="middle">1</text>
<text x="84.9" y="507.2" font-size="7" fill="#222" font-weight="normal" text-anchor="start" textLength="22.6" lengthAdjust="spacingAndGlyphs" stroke="#222" stroke-width="0.2">LODE 1</text>
<path d="M184.8,61.5 L184.8,80" fill="none" stroke="#ffff00" stroke-width="7.3" stroke-linecap="butt"/>
<path d="M186.62,61.5 L186.62,80" fill="none" stroke="#00e600" stroke-width="3.65"/>
<path d="M198.5,61.5 L198.5,80" fill="none" stroke="#ffff00" stroke-width="7.3" stroke-linecap="butt"/>
<path d="M200.32,61.5 L200.32,80" fill="none" stroke="#00e600" stroke-width="3.65"/>
<path d="M102.8,545 L102.8,531.5" fill="none" stroke="#ffff00" stroke-width="7.3" stroke-linecap="butt"/>
<path d="M104.62,545 L104.62,531.5" fill="none" stroke="#00e600" stroke-width="3.65"/>
<rect x="68" y="290" width="42.7" height="86.4" rx="0" fill="#fff" stroke="none" stroke-width="0"/>
<path d="M110.7,290 H68 V376.4 H110.7" fill="none" stroke="#444" stroke-width="1"/>
<line x1="70.2" y1="290" x2="70.2" y2="376.4" stroke="#777" stroke-width="0.8"/>
<path d="M110.7,290 V319.5 H83.6 V347.2 H110.7 V376.4" fill="none" stroke="#444" stroke-width="1"/>
<rect x="86.8" y="290" width="23.7" height="2.8" rx="0" fill="#cfcfcf" stroke="#444" stroke-width="0.7"/>
<rect x="107.3" y="290" width="3.4" height="2.8" rx="0" fill="#fff" stroke="#333" stroke-width="0.7"/>
<rect x="86.8" y="316.7" width="23.7" height="2.8" rx="0" fill="#cfcfcf" stroke="#444" stroke-width="0.7"/>
<rect x="107.3" y="316.7" width="3.4" height="2.8" rx="0" fill="#fff" stroke="#333" stroke-width="0.7"/>
<rect x="86.8" y="347.2" width="23.7" height="2.8" rx="0" fill="#cfcfcf" stroke="#444" stroke-width="0.7"/>
<rect x="107.3" y="347.2" width="3.4" height="2.8" rx="0" fill="#fff" stroke="#333" stroke-width="0.7"/>
<rect x="86.8" y="373.6" width="23.7" height="2.8" rx="0" fill="#cfcfcf" stroke="#444" stroke-width="0.7"/>
<rect x="107.3" y="373.6" width="3.4" height="2.8" rx="0" fill="#fff" stroke="#333" stroke-width="0.7"/>
<circle cx="98.5" cy="304.4" r="3.9" fill="#fff" stroke="#2a2a2a" stroke-width="1.4"/>
<circle cx="93.4" cy="333.5" r="3.9" fill="#fff" stroke="#2a2a2a" stroke-width="1.4"/>
<circle cx="98.5" cy="361.9" r="3.9" fill="#fff" stroke="#2a2a2a" stroke-width="1.4"/>
<line x1="110.7" y1="299.3" x2="115.5" y2="299.3" stroke="#555" stroke-width="0.8"/>
<line x1="110.7" y1="309.6" x2="115.5" y2="309.6" stroke="#555" stroke-width="0.8"/>
<line x1="110.7" y1="358" x2="115.5" y2="358" stroke="#555" stroke-width="0.8"/>
<line x1="110.7" y1="368.3" x2="115.5" y2="368.3" stroke="#555" stroke-width="0.8"/>
<rect x="609.3" y="290" width="42.2" height="86.3" rx="0" fill="#fff" stroke="none" stroke-width="0"/>
<path d="M609.3,290 H651.5 V376.3 H609.3" fill="none" stroke="#444" stroke-width="1"/>
<line x1="649.3" y1="290" x2="649.3" y2="376.3" stroke="#777" stroke-width="0.8"/>
<path d="M609.3,290 V319.5 H636 V347.1 H609.3 V376.3" fill="none" stroke="#444" stroke-width="1"/>
<rect x="609.5" y="290" width="23.3" height="2.8" rx="0" fill="#cfcfcf" stroke="#444" stroke-width="0.7"/>
<rect x="609.3" y="290" width="3.4" height="2.8" rx="0" fill="#fff" stroke="#333" stroke-width="0.7"/>
<rect x="609.5" y="316.7" width="23.3" height="2.8" rx="0" fill="#cfcfcf" stroke="#444" stroke-width="0.7"/>
<rect x="609.3" y="316.7" width="3.4" height="2.8" rx="0" fill="#fff" stroke="#333" stroke-width="0.7"/>
<rect x="609.5" y="347.1" width="23.3" height="2.8" rx="0" fill="#cfcfcf" stroke="#444" stroke-width="0.7"/>
<rect x="609.3" y="347.1" width="3.4" height="2.8" rx="0" fill="#fff" stroke="#333" stroke-width="0.7"/>
<rect x="609.5" y="373.5" width="23.3" height="2.8" rx="0" fill="#cfcfcf" stroke="#444" stroke-width="0.7"/>
<rect x="609.3" y="373.5" width="3.4" height="2.8" rx="0" fill="#fff" stroke="#333" stroke-width="0.7"/>
<circle cx="621.5" cy="304.4" r="3.9" fill="#fff" stroke="#2a2a2a" stroke-width="1.4"/>
<circle cx="626.6" cy="333.45" r="3.9" fill="#fff" stroke="#2a2a2a" stroke-width="1.4"/>
<circle cx="621.5" cy="361.8" r="3.9" fill="#fff" stroke="#2a2a2a" stroke-width="1.4"/>
<line x1="630.6" y1="329.55" x2="636" y2="329.55" stroke="#555" stroke-width="0.8"/>
<line x1="630.6" y1="337.35" x2="636" y2="337.35" stroke="#555" stroke-width="0.8"/>
<rect x="607.1" y="300" width="2.2" height="4.6" rx="0" fill="#fff" stroke="#333" stroke-width="0.8"/>
<rect x="607.1" y="362.3" width="2.2" height="4.6" rx="0" fill="#fff" stroke="#333" stroke-width="0.8"/>
<rect x="68" y="780.4" width="42.7" height="86" rx="0" fill="#fff" stroke="none" stroke-width="0"/>
<path d="M110.7,780.4 H68 V866.4 H110.7" fill="none" stroke="#444" stroke-width="1"/>
<line x1="70.2" y1="780.4" x2="70.2" y2="866.4" stroke="#777" stroke-width="0.8"/>
<path d="M110.7,780.4 V809.9 H83.6 V837.2 H110.7 V866.4" fill="none" stroke="#444" stroke-width="1"/>
<rect x="86.8" y="780.4" width="23.7" height="2.8" rx="0" fill="#cfcfcf" stroke="#444" stroke-width="0.7"/>
<rect x="107.3" y="780.4" width="3.4" height="2.8" rx="0" fill="#fff" stroke="#333" stroke-width="0.7"/>
<rect x="86.8" y="807.1" width="23.7" height="2.8" rx="0" fill="#cfcfcf" stroke="#444" stroke-width="0.7"/>
<rect x="107.3" y="807.1" width="3.4" height="2.8" rx="0" fill="#fff" stroke="#333" stroke-width="0.7"/>
<rect x="86.8" y="837.2" width="23.7" height="2.8" rx="0" fill="#cfcfcf" stroke="#444" stroke-width="0.7"/>
<rect x="107.3" y="837.2" width="3.4" height="2.8" rx="0" fill="#fff" stroke="#333" stroke-width="0.7"/>
<rect x="86.8" y="863.6" width="23.7" height="2.8" rx="0" fill="#cfcfcf" stroke="#444" stroke-width="0.7"/>
<rect x="107.3" y="863.6" width="3.4" height="2.8" rx="0" fill="#fff" stroke="#333" stroke-width="0.7"/>
<circle cx="98.5" cy="794.8" r="3.9" fill="#fff" stroke="#2a2a2a" stroke-width="1.4"/>
<circle cx="93.4" cy="823.7" r="3.9" fill="#fff" stroke="#2a2a2a" stroke-width="1.4"/>
<circle cx="98.5" cy="851.9" r="3.9" fill="#fff" stroke="#2a2a2a" stroke-width="1.4"/>
<line x1="110.7" y1="789.7" x2="115.5" y2="789.7" stroke="#555" stroke-width="0.8"/>
<line x1="110.7" y1="800" x2="115.5" y2="800" stroke="#555" stroke-width="0.8"/>
<line x1="110.7" y1="848" x2="115.5" y2="848" stroke="#555" stroke-width="0.8"/>
<line x1="110.7" y1="858.3" x2="115.5" y2="858.3" stroke="#555" stroke-width="0.8"/>
<rect x="608.9" y="780.2" width="42.6" height="86" rx="0" fill="#fff" stroke="none" stroke-width="0"/>
<path d="M608.9,780.2 H651.5 V866.2 H608.9" fill="none" stroke="#444" stroke-width="1"/>
<line x1="649.3" y1="780.2" x2="649.3" y2="866.2" stroke="#777" stroke-width="0.8"/>
<path d="M608.9,780.2 V809.7 H636 V837 H608.9 V866.2" fill="none" stroke="#444" stroke-width="1"/>
<rect x="609.1" y="780.2" width="23.7" height="2.8" rx="0" fill="#cfcfcf" stroke="#444" stroke-width="0.7"/>
<rect x="608.9" y="780.2" width="3.4" height="2.8" rx="0" fill="#fff" stroke="#333" stroke-width="0.7"/>
<rect x="609.1" y="806.9" width="23.7" height="2.8" rx="0" fill="#cfcfcf" stroke="#444" stroke-width="0.7"/>
<rect x="608.9" y="806.9" width="3.4" height="2.8" rx="0" fill="#fff" stroke="#333" stroke-width="0.7"/>
<rect x="609.1" y="837" width="23.7" height="2.8" rx="0" fill="#cfcfcf" stroke="#444" stroke-width="0.7"/>
<rect x="608.9" y="837" width="3.4" height="2.8" rx="0" fill="#fff" stroke="#333" stroke-width="0.7"/>
<rect x="609.1" y="863.4" width="23.7" height="2.8" rx="0" fill="#cfcfcf" stroke="#444" stroke-width="0.7"/>
<rect x="608.9" y="863.4" width="3.4" height="2.8" rx="0" fill="#fff" stroke="#333" stroke-width="0.7"/>
<circle cx="621.1" cy="794.6" r="3.9" fill="#fff" stroke="#2a2a2a" stroke-width="1.4"/>
<circle cx="626.2" cy="823.5" r="3.9" fill="#fff" stroke="#2a2a2a" stroke-width="1.4"/>
<circle cx="621.1" cy="851.7" r="3.9" fill="#fff" stroke="#2a2a2a" stroke-width="1.4"/>
<line x1="630.2" y1="819.6" x2="636" y2="819.6" stroke="#555" stroke-width="0.8"/>
<line x1="630.2" y1="827.4" x2="636" y2="827.4" stroke="#555" stroke-width="0.8"/>
<rect x="606.7" y="790.2" width="2.2" height="4.6" rx="0" fill="#fff" stroke="#333" stroke-width="0.8"/>
<rect x="606.7" y="852.2" width="2.2" height="4.6" rx="0" fill="#fff" stroke="#333" stroke-width="0.8"/>
<rect x="122.5" y="239.5" width="17" height="7.1" rx="0" fill="#fff" stroke="#444" stroke-width="0.9"/>
<rect x="115.6" y="246.6" width="34.9" height="172.2" rx="0" fill="#fff" stroke="#222" stroke-width="1.2"/>
<line x1="132.7" y1="246.6" x2="132.7" y2="289.3" stroke="#222" stroke-width="1"/>
<path d="M122.3,246.6 V266.5 A10.4,10.4 0 0 0 143.1,266.5 V246.6" fill="none" stroke="#444" stroke-width="0.8"/>
<circle cx="132.7" cy="266.3" r="7.4" fill="#fff" stroke="#222" stroke-width="1.1"/>
<line x1="132.7" y1="258.9" x2="132.7" y2="273.7" stroke="#222" stroke-width="0.9"/>
<line x1="115.6" y1="289.3" x2="150.5" y2="289.3" stroke="#111" stroke-width="1.3"/>
<rect x="131" y="299.1" width="9.7" height="7.8" rx="0" fill="none" stroke="#111" stroke-width="1.4"/>
<line x1="115.6" y1="311.2" x2="150.5" y2="311.2" stroke="#111" stroke-width="1.4"/>
<line x1="115.6" y1="338.6" x2="150.5" y2="338.6" stroke="#111" stroke-width="1.4"/>
<rect x="134.5" y="353" width="10.2" height="5.4" rx="2.7" fill="none" stroke="#111" stroke-width="1.4"/>
<line x1="115.6" y1="377" x2="150.5" y2="377" stroke="#111" stroke-width="1.3"/>
<line x1="132.7" y1="377" x2="132.7" y2="418.8" stroke="#222" stroke-width="1"/>
<path d="M122.3,418.8 V399.5 A10.4,10.4 0 0 1 143.1,399.5 V418.8" fill="none" stroke="#444" stroke-width="0.8"/>
<circle cx="132.7" cy="399.5" r="7.4" fill="#fff" stroke="#222" stroke-width="1.1"/>
<line x1="132.7" y1="392.1" x2="132.7" y2="406.9" stroke="#222" stroke-width="0.9"/>
<rect x="150.5" y="246.6" width="35" height="172.2" rx="0" fill="#fff" stroke="#000" stroke-width="1.7"/>
<line x1="168" y1="246.6" x2="168" y2="289.3" stroke="#111" stroke-width="1"/>
<path d="M156.5,246.6 V265.2 A11.5,11.5 0 0 0 179.5,265.2 V246.6" fill="#fff" stroke="#000" stroke-width="1.8"/>
<path d="M158.6,248.6 V265.2 A9.4,9.4 0 0 0 177.4,265.2 V248.6" fill="none" stroke="#222" stroke-width="0.7"/>
<line x1="156.6" y1="248.6" x2="179.4" y2="248.6" stroke="#222" stroke-width="0.7"/>
<line x1="168" y1="246.6" x2="168" y2="258" stroke="#111" stroke-width="1"/>
<circle cx="168" cy="265.4" r="7.9" fill="#fff" stroke="#0a0a0a" stroke-width="2.4"/>
<path d="M166.6,258.6 h2.8 v5.4 h5.4 v2.8 h-5.4 v5.4 h-2.8 v-5.4 h-5.4 v-2.8 h5.4 z" fill="#fff" stroke="#0a0a0a" stroke-width="1.2"/>
<path d="M168,262.7 l2.1,2.7 l-2.1,2.7 l-2.1,-2.7 z" fill="#fff" stroke="#111" stroke-width="0.8"/>
<line x1="150.5" y1="289.3" x2="185.5" y2="289.3" stroke="#111" stroke-width="1.1"/>
<rect x="152.1" y="310.5" width="31.8" height="25" rx="0" fill="#fff" stroke="#111" stroke-width="1.1"/>
<line x1="150.5" y1="310.5" x2="185.5" y2="310.5" stroke="#000" stroke-width="1.8"/>
<line x1="150.5" y1="335.5" x2="185.5" y2="335.5" stroke="#000" stroke-width="1.8"/>
<rect x="153.7" y="312.6" width="7.6" height="20.2" rx="0" fill="#fff" stroke="#111" stroke-width="1.1"/>
<line x1="153.7" y1="323.8" x2="161.3" y2="323.8" stroke="#111" stroke-width="0.9"/>
<line x1="153.7" y1="326.8" x2="161.3" y2="326.8" stroke="#111" stroke-width="0.9"/>
<rect x="174.3" y="312.6" width="7.6" height="20.2" rx="0" fill="#fff" stroke="#111" stroke-width="1.1"/>
<line x1="174.3" y1="323.8" x2="181.9" y2="323.8" stroke="#111" stroke-width="0.9"/>
<line x1="174.3" y1="326.8" x2="181.9" y2="326.8" stroke="#111" stroke-width="0.9"/>
<line x1="161.3" y1="332.8" x2="174.3" y2="332.8" stroke="#111" stroke-width="1"/>
<line x1="161.3" y1="318" x2="174.3" y2="318" stroke="#555" stroke-width="0.7"/>
<line x1="150.5" y1="338.2" x2="185.5" y2="338.2" stroke="#333" stroke-width="0.8"/>
<line x1="150.5" y1="348.8" x2="185.5" y2="348.8" stroke="#111" stroke-width="1.1"/>
<rect x="169.3" y="353.1" width="11.1" height="5.3" rx="2.6" fill="none" stroke="#000" stroke-width="1.4"/>
<line x1="150.5" y1="375" x2="185.5" y2="375" stroke="#000" stroke-width="1.8"/>
<line x1="168" y1="375" x2="168" y2="418.8" stroke="#111" stroke-width="1"/>
<path d="M156.5,418.8 V400.8 A11.5,11.5 0 0 1 179.5,400.8 V418.8" fill="#fff" stroke="#000" stroke-width="1.8"/>
<path d="M158.6,416.8 V400.8 A9.4,9.4 0 0 1 177.4,400.8 V416.8" fill="none" stroke="#222" stroke-width="0.7"/>
<circle cx="168" cy="400.5" r="7.9" fill="#fff" stroke="#0a0a0a" stroke-width="2.4"/>
<path d="M166.6,393.7 h2.8 v5.4 h5.4 v2.8 h-5.4 v5.4 h-2.8 v-5.4 h-5.4 v-2.8 h5.4 z" fill="#fff" stroke="#0a0a0a" stroke-width="1.2"/>
<path d="M168,397.8 l2.1,2.7 l-2.1,2.7 l-2.1,-2.7 z" fill="#fff" stroke="#111" stroke-width="0.8"/>
<line x1="158" y1="419.4" x2="178" y2="419.4" stroke="#000" stroke-width="1.6"/>
<rect x="185.5" y="246.6" width="35" height="172.2" rx="0" fill="#fff" stroke="#000" stroke-width="1.7"/>
<line x1="203" y1="246.6" x2="203" y2="289.3" stroke="#111" stroke-width="1"/>
<path d="M191.5,246.6 V265.2 A11.5,11.5 0 0 0 214.5,265.2 V246.6" fill="#fff" stroke="#000" stroke-width="1.8"/>
<path d="M193.6,248.6 V265.2 A9.4,9.4 0 0 0 212.4,265.2 V248.6" fill="none" stroke="#222" stroke-width="0.7"/>
<line x1="191.6" y1="248.6" x2="214.4" y2="248.6" stroke="#222" stroke-width="0.7"/>
<line x1="203" y1="246.6" x2="203" y2="258" stroke="#111" stroke-width="1"/>
<circle cx="203" cy="265.4" r="7.9" fill="#fff" stroke="#0a0a0a" stroke-width="2.4"/>
<path d="M201.6,258.6 h2.8 v5.4 h5.4 v2.8 h-5.4 v5.4 h-2.8 v-5.4 h-5.4 v-2.8 h5.4 z" fill="#fff" stroke="#0a0a0a" stroke-width="1.2"/>
<path d="M203,262.7 l2.1,2.7 l-2.1,2.7 l-2.1,-2.7 z" fill="#fff" stroke="#111" stroke-width="0.8"/>
<line x1="185.5" y1="289.3" x2="220.5" y2="289.3" stroke="#111" stroke-width="1.1"/>
<rect x="187.1" y="310.5" width="31.8" height="25" rx="0" fill="#fff" stroke="#111" stroke-width="1.1"/>
<line x1="185.5" y1="310.5" x2="220.5" y2="310.5" stroke="#000" stroke-width="1.8"/>
<line x1="185.5" y1="335.5" x2="220.5" y2="335.5" stroke="#000" stroke-width="1.8"/>
<rect x="188.7" y="312.6" width="7.6" height="20.2" rx="0" fill="#fff" stroke="#111" stroke-width="1.1"/>
<line x1="188.7" y1="323.8" x2="196.3" y2="323.8" stroke="#111" stroke-width="0.9"/>
<line x1="188.7" y1="326.8" x2="196.3" y2="326.8" stroke="#111" stroke-width="0.9"/>
<rect x="209.3" y="312.6" width="7.6" height="20.2" rx="0" fill="#fff" stroke="#111" stroke-width="1.1"/>
<line x1="209.3" y1="323.8" x2="216.9" y2="323.8" stroke="#111" stroke-width="0.9"/>
<line x1="209.3" y1="326.8" x2="216.9" y2="326.8" stroke="#111" stroke-width="0.9"/>
<line x1="196.3" y1="332.8" x2="209.3" y2="332.8" stroke="#111" stroke-width="1"/>
<line x1="196.3" y1="318" x2="209.3" y2="318" stroke="#555" stroke-width="0.7"/>
<line x1="185.5" y1="338.2" x2="220.5" y2="338.2" stroke="#333" stroke-width="0.8"/>
<line x1="185.5" y1="348.8" x2="220.5" y2="348.8" stroke="#111" stroke-width="1.1"/>
<rect x="204.3" y="353.1" width="11.1" height="5.3" rx="2.6" fill="none" stroke="#000" stroke-width="1.4"/>
<line x1="185.5" y1="375" x2="220.5" y2="375" stroke="#000" stroke-width="1.8"/>
<line x1="203" y1="375" x2="203" y2="418.8" stroke="#111" stroke-width="1"/>
<path d="M191.5,418.8 V400.8 A11.5,11.5 0 0 1 214.5,400.8 V418.8" fill="#fff" stroke="#000" stroke-width="1.8"/>
<path d="M193.6,416.8 V400.8 A9.4,9.4 0 0 1 212.4,400.8 V416.8" fill="none" stroke="#222" stroke-width="0.7"/>
<circle cx="203" cy="400.5" r="7.9" fill="#fff" stroke="#0a0a0a" stroke-width="2.4"/>
<path d="M201.6,393.7 h2.8 v5.4 h5.4 v2.8 h-5.4 v5.4 h-2.8 v-5.4 h-5.4 v-2.8 h5.4 z" fill="#fff" stroke="#0a0a0a" stroke-width="1.2"/>
<path d="M203,397.8 l2.1,2.7 l-2.1,2.7 l-2.1,-2.7 z" fill="#fff" stroke="#111" stroke-width="0.8"/>
<line x1="193" y1="419.4" x2="213" y2="419.4" stroke="#000" stroke-width="1.6"/>
<rect x="220.5" y="246.6" width="35" height="172.2" rx="0" fill="#fff" stroke="#000" stroke-width="1.7"/>
<line x1="238" y1="246.6" x2="238" y2="289.3" stroke="#111" stroke-width="1"/>
<path d="M226.5,246.6 V265.2 A11.5,11.5 0 0 0 249.5,265.2 V246.6" fill="#fff" stroke="#000" stroke-width="1.8"/>
<path d="M228.6,248.6 V265.2 A9.4,9.4 0 0 0 247.4,265.2 V248.6" fill="none" stroke="#222" stroke-width="0.7"/>
<line x1="226.6" y1="248.6" x2="249.4" y2="248.6" stroke="#222" stroke-width="0.7"/>
<line x1="238" y1="246.6" x2="238" y2="258" stroke="#111" stroke-width="1"/>
<circle cx="238" cy="265.4" r="7.9" fill="#fff" stroke="#0a0a0a" stroke-width="2.4"/>
<path d="M236.6,258.6 h2.8 v5.4 h5.4 v2.8 h-5.4 v5.4 h-2.8 v-5.4 h-5.4 v-2.8 h5.4 z" fill="#fff" stroke="#0a0a0a" stroke-width="1.2"/>
<path d="M238,262.7 l2.1,2.7 l-2.1,2.7 l-2.1,-2.7 z" fill="#fff" stroke="#111" stroke-width="0.8"/>
<line x1="220.5" y1="289.3" x2="255.5" y2="289.3" stroke="#111" stroke-width="1.1"/>
<rect x="222.1" y="310.5" width="31.8" height="25" rx="0" fill="#fff" stroke="#111" stroke-width="1.1"/>
<line x1="220.5" y1="310.5" x2="255.5" y2="310.5" stroke="#000" stroke-width="1.8"/>
<line x1="220.5" y1="335.5" x2="255.5" y2="335.5" stroke="#000" stroke-width="1.8"/>
<rect x="223.7" y="312.6" width="7.6" height="20.2" rx="0" fill="#fff" stroke="#111" stroke-width="1.1"/>
<line x1="223.7" y1="323.8" x2="231.3" y2="323.8" stroke="#111" stroke-width="0.9"/>
<line x1="223.7" y1="326.8" x2="231.3" y2="326.8" stroke="#111" stroke-width="0.9"/>
<rect x="244.3" y="312.6" width="7.6" height="20.2" rx="0" fill="#fff" stroke="#111" stroke-width="1.1"/>
<line x1="244.3" y1="323.8" x2="251.9" y2="323.8" stroke="#111" stroke-width="0.9"/>
<line x1="244.3" y1="326.8" x2="251.9" y2="326.8" stroke="#111" stroke-width="0.9"/>
<line x1="231.3" y1="332.8" x2="244.3" y2="332.8" stroke="#111" stroke-width="1"/>
<line x1="231.3" y1="318" x2="244.3" y2="318" stroke="#555" stroke-width="0.7"/>
<line x1="220.5" y1="338.2" x2="255.5" y2="338.2" stroke="#333" stroke-width="0.8"/>
<line x1="220.5" y1="348.8" x2="255.5" y2="348.8" stroke="#111" stroke-width="1.1"/>
<rect x="239.3" y="353.1" width="11.1" height="5.3" rx="2.6" fill="none" stroke="#000" stroke-width="1.4"/>
<line x1="220.5" y1="375" x2="255.5" y2="375" stroke="#000" stroke-width="1.8"/>
<line x1="238" y1="375" x2="238" y2="418.8" stroke="#111" stroke-width="1"/>
<path d="M226.5,418.8 V400.8 A11.5,11.5 0 0 1 249.5,400.8 V418.8" fill="#fff" stroke="#000" stroke-width="1.8"/>
<path d="M228.6,416.8 V400.8 A9.4,9.4 0 0 1 247.4,400.8 V416.8" fill="none" stroke="#222" stroke-width="0.7"/>
<circle cx="238" cy="400.5" r="7.9" fill="#fff" stroke="#0a0a0a" stroke-width="2.4"/>
<path d="M236.6,393.7 h2.8 v5.4 h5.4 v2.8 h-5.4 v5.4 h-2.8 v-5.4 h-5.4 v-2.8 h5.4 z" fill="#fff" stroke="#0a0a0a" stroke-width="1.2"/>
<path d="M238,397.8 l2.1,2.7 l-2.1,2.7 l-2.1,-2.7 z" fill="#fff" stroke="#111" stroke-width="0.8"/>
<line x1="228" y1="419.4" x2="248" y2="419.4" stroke="#000" stroke-width="1.6"/>
<rect x="255.5" y="246.6" width="35" height="172.2" rx="0" fill="#fff" stroke="#000" stroke-width="1.7"/>
<line x1="273" y1="246.6" x2="273" y2="289.3" stroke="#111" stroke-width="1"/>
<path d="M261.5,246.6 V265.2 A11.5,11.5 0 0 0 284.5,265.2 V246.6" fill="#fff" stroke="#000" stroke-width="1.8"/>
<path d="M263.6,248.6 V265.2 A9.4,9.4 0 0 0 282.4,265.2 V248.6" fill="none" stroke="#222" stroke-width="0.7"/>
<line x1="261.6" y1="248.6" x2="284.4" y2="248.6" stroke="#222" stroke-width="0.7"/>
<line x1="273" y1="246.6" x2="273" y2="258" stroke="#111" stroke-width="1"/>
<circle cx="273" cy="265.4" r="7.9" fill="#fff" stroke="#0a0a0a" stroke-width="2.4"/>
<path d="M271.6,258.6 h2.8 v5.4 h5.4 v2.8 h-5.4 v5.4 h-2.8 v-5.4 h-5.4 v-2.8 h5.4 z" fill="#fff" stroke="#0a0a0a" stroke-width="1.2"/>
<path d="M273,262.7 l2.1,2.7 l-2.1,2.7 l-2.1,-2.7 z" fill="#fff" stroke="#111" stroke-width="0.8"/>
<line x1="255.5" y1="289.3" x2="290.5" y2="289.3" stroke="#111" stroke-width="1.1"/>
<rect x="257.1" y="310.5" width="31.8" height="25" rx="0" fill="#fff" stroke="#111" stroke-width="1.1"/>
<line x1="255.5" y1="310.5" x2="290.5" y2="310.5" stroke="#000" stroke-width="1.8"/>
<line x1="255.5" y1="335.5" x2="290.5" y2="335.5" stroke="#000" stroke-width="1.8"/>
<rect x="258.7" y="312.6" width="7.6" height="20.2" rx="0" fill="#fff" stroke="#111" stroke-width="1.1"/>
<line x1="258.7" y1="323.8" x2="266.3" y2="323.8" stroke="#111" stroke-width="0.9"/>
<line x1="258.7" y1="326.8" x2="266.3" y2="326.8" stroke="#111" stroke-width="0.9"/>
<rect x="279.3" y="312.6" width="7.6" height="20.2" rx="0" fill="#fff" stroke="#111" stroke-width="1.1"/>
<line x1="279.3" y1="323.8" x2="286.9" y2="323.8" stroke="#111" stroke-width="0.9"/>
<line x1="279.3" y1="326.8" x2="286.9" y2="326.8" stroke="#111" stroke-width="0.9"/>
<line x1="266.3" y1="332.8" x2="279.3" y2="332.8" stroke="#111" stroke-width="1"/>
<line x1="266.3" y1="318" x2="279.3" y2="318" stroke="#555" stroke-width="0.7"/>
<line x1="255.5" y1="338.2" x2="290.5" y2="338.2" stroke="#333" stroke-width="0.8"/>
<line x1="255.5" y1="348.8" x2="290.5" y2="348.8" stroke="#111" stroke-width="1.1"/>
<rect x="274.3" y="353.1" width="11.1" height="5.3" rx="2.6" fill="none" stroke="#000" stroke-width="1.4"/>
<line x1="255.5" y1="375" x2="290.5" y2="375" stroke="#000" stroke-width="1.8"/>
<line x1="273" y1="375" x2="273" y2="418.8" stroke="#111" stroke-width="1"/>
<path d="M261.5,418.8 V400.8 A11.5,11.5 0 0 1 284.5,400.8 V418.8" fill="#fff" stroke="#000" stroke-width="1.8"/>
<path d="M263.6,416.8 V400.8 A9.4,9.4 0 0 1 282.4,400.8 V416.8" fill="none" stroke="#222" stroke-width="0.7"/>
<circle cx="273" cy="400.5" r="7.9" fill="#fff" stroke="#0a0a0a" stroke-width="2.4"/>
<path d="M271.6,393.7 h2.8 v5.4 h5.4 v2.8 h-5.4 v5.4 h-2.8 v-5.4 h-5.4 v-2.8 h5.4 z" fill="#fff" stroke="#0a0a0a" stroke-width="1.2"/>
<path d="M273,397.8 l2.1,2.7 l-2.1,2.7 l-2.1,-2.7 z" fill="#fff" stroke="#111" stroke-width="0.8"/>
<line x1="263" y1="419.4" x2="283" y2="419.4" stroke="#000" stroke-width="1.6"/>
<rect x="290.5" y="246.6" width="35" height="172.2" rx="0" fill="#fff" stroke="#000" stroke-width="1.7"/>
<line x1="308" y1="246.6" x2="308" y2="289.3" stroke="#111" stroke-width="1"/>
<path d="M296.5,246.6 V265.2 A11.5,11.5 0 0 0 319.5,265.2 V246.6" fill="#fff" stroke="#000" stroke-width="1.8"/>
<path d="M298.6,248.6 V265.2 A9.4,9.4 0 0 0 317.4,265.2 V248.6" fill="none" stroke="#222" stroke-width="0.7"/>
<line x1="296.6" y1="248.6" x2="319.4" y2="248.6" stroke="#222" stroke-width="0.7"/>
<line x1="308" y1="246.6" x2="308" y2="258" stroke="#111" stroke-width="1"/>
<circle cx="308" cy="265.4" r="7.9" fill="#fff" stroke="#0a0a0a" stroke-width="2.4"/>
<path d="M306.6,258.6 h2.8 v5.4 h5.4 v2.8 h-5.4 v5.4 h-2.8 v-5.4 h-5.4 v-2.8 h5.4 z" fill="#fff" stroke="#0a0a0a" stroke-width="1.2"/>
<path d="M308,262.7 l2.1,2.7 l-2.1,2.7 l-2.1,-2.7 z" fill="#fff" stroke="#111" stroke-width="0.8"/>
<line x1="290.5" y1="289.3" x2="325.5" y2="289.3" stroke="#111" stroke-width="1.1"/>
<rect x="292.1" y="310.5" width="31.8" height="25" rx="0" fill="#fff" stroke="#111" stroke-width="1.1"/>
<line x1="290.5" y1="310.5" x2="325.5" y2="310.5" stroke="#000" stroke-width="1.8"/>
<line x1="290.5" y1="335.5" x2="325.5" y2="335.5" stroke="#000" stroke-width="1.8"/>
<rect x="293.7" y="312.6" width="7.6" height="20.2" rx="0" fill="#fff" stroke="#111" stroke-width="1.1"/>
<line x1="293.7" y1="323.8" x2="301.3" y2="323.8" stroke="#111" stroke-width="0.9"/>
<line x1="293.7" y1="326.8" x2="301.3" y2="326.8" stroke="#111" stroke-width="0.9"/>
<rect x="314.3" y="312.6" width="7.6" height="20.2" rx="0" fill="#fff" stroke="#111" stroke-width="1.1"/>
<line x1="314.3" y1="323.8" x2="321.9" y2="323.8" stroke="#111" stroke-width="0.9"/>
<line x1="314.3" y1="326.8" x2="321.9" y2="326.8" stroke="#111" stroke-width="0.9"/>
<line x1="301.3" y1="332.8" x2="314.3" y2="332.8" stroke="#111" stroke-width="1"/>
<line x1="301.3" y1="318" x2="314.3" y2="318" stroke="#555" stroke-width="0.7"/>
<line x1="290.5" y1="338.2" x2="325.5" y2="338.2" stroke="#333" stroke-width="0.8"/>
<line x1="290.5" y1="348.8" x2="325.5" y2="348.8" stroke="#111" stroke-width="1.1"/>
<rect x="309.3" y="353.1" width="11.1" height="5.3" rx="2.6" fill="none" stroke="#000" stroke-width="1.4"/>
<line x1="290.5" y1="375" x2="325.5" y2="375" stroke="#000" stroke-width="1.8"/>
<line x1="308" y1="375" x2="308" y2="418.8" stroke="#111" stroke-width="1"/>
<path d="M296.5,418.8 V400.8 A11.5,11.5 0 0 1 319.5,400.8 V418.8" fill="#fff" stroke="#000" stroke-width="1.8"/>
<path d="M298.6,416.8 V400.8 A9.4,9.4 0 0 1 317.4,400.8 V416.8" fill="none" stroke="#222" stroke-width="0.7"/>
<circle cx="308" cy="400.5" r="7.9" fill="#fff" stroke="#0a0a0a" stroke-width="2.4"/>
<path d="M306.6,393.7 h2.8 v5.4 h5.4 v2.8 h-5.4 v5.4 h-2.8 v-5.4 h-5.4 v-2.8 h5.4 z" fill="#fff" stroke="#0a0a0a" stroke-width="1.2"/>
<path d="M308,397.8 l2.1,2.7 l-2.1,2.7 l-2.1,-2.7 z" fill="#fff" stroke="#111" stroke-width="0.8"/>
<line x1="298" y1="419.4" x2="318" y2="419.4" stroke="#000" stroke-width="1.6"/>
<text x="282.6" y="285.6" font-size="8.2" fill="#35d335" font-weight="bold" text-anchor="middle">N</text>
<text x="316.2" y="285.6" font-size="8.2" fill="#35d335" font-weight="bold" text-anchor="middle">PE</text>
<rect x="325.5" y="252" width="140.2" height="160.6" rx="0" fill="#fff" stroke="#333" stroke-width="1"/>
<line x1="325.5" y1="286.4" x2="465.7" y2="286.4" stroke="#222" stroke-width="1"/>
<line x1="325.5" y1="287.7" x2="465.7" y2="287.7" stroke="#444" stroke-width="0.8"/>
<line x1="325.5" y1="378.3" x2="465.7" y2="378.3" stroke="#222" stroke-width="1"/>
<line x1="325.5" y1="379.8" x2="465.7" y2="379.8" stroke="#444" stroke-width="0.8"/>
<line x1="360.5" y1="287" x2="360.5" y2="379" stroke="#444" stroke-width="0.9"/>
<rect x="358.5" y="284" width="4" height="3.7" rx="0" fill="#fff" stroke="#333" stroke-width="0.8"/>
<rect x="358.5" y="376.8" width="4" height="4" rx="0" fill="#fff" stroke="#333" stroke-width="0.8"/>
<line x1="395.5" y1="287" x2="395.5" y2="379" stroke="#444" stroke-width="0.9"/>
<rect x="393.5" y="284" width="4" height="3.7" rx="0" fill="#fff" stroke="#333" stroke-width="0.8"/>
<rect x="393.5" y="376.8" width="4" height="4" rx="0" fill="#fff" stroke="#333" stroke-width="0.8"/>
<line x1="430.5" y1="287" x2="430.5" y2="379" stroke="#444" stroke-width="0.9"/>
<rect x="428.5" y="284" width="4" height="3.7" rx="0" fill="#fff" stroke="#333" stroke-width="0.8"/>
<rect x="428.5" y="376.8" width="4" height="4" rx="0" fill="#fff" stroke="#333" stroke-width="0.8"/>
<rect x="330.5" y="296.2" width="23.4" height="10.1" rx="5" fill="none" stroke="#333" stroke-width="1.1"/>
<rect x="365.5" y="296.2" width="23.4" height="10.1" rx="5" fill="none" stroke="#333" stroke-width="1.1"/>
<rect x="400.5" y="296.2" width="23.4" height="10.1" rx="5" fill="none" stroke="#333" stroke-width="1.1"/>
<rect x="435.5" y="296.2" width="23.4" height="10.1" rx="5" fill="none" stroke="#333" stroke-width="1.1"/>
<circle cx="448.8" cy="268.7" r="7.6" fill="#fff" stroke="#1e1e1e" stroke-width="1.8"/>
<line x1="442.2" y1="267.5" x2="455.4" y2="267.5" stroke="#2a2a2a" stroke-width="0.8"/>
<line x1="442.2" y1="269.9" x2="455.4" y2="269.9" stroke="#2a2a2a" stroke-width="0.8"/>
<path d="M447.4,264.1 h2.8 v3.2 h3.2 v2.8 h-3.2 v3.2 h-2.8 v-3.2 h-3.2 v-2.8 h3.2 z" fill="#fff" stroke="#1e1e1e" stroke-width="1.1"/>
<circle cx="448.8" cy="268.7" r="1.5" fill="#fff" stroke="#222" stroke-width="0.8"/>
<circle cx="342.5" cy="397" r="7.6" fill="#fff" stroke="#1e1e1e" stroke-width="1.8"/>
<line x1="335.9" y1="395.8" x2="349.1" y2="395.8" stroke="#2a2a2a" stroke-width="0.8"/>
<line x1="335.9" y1="398.2" x2="349.1" y2="398.2" stroke="#2a2a2a" stroke-width="0.8"/>
<path d="M341.1,392.4 h2.8 v3.2 h3.2 v2.8 h-3.2 v3.2 h-2.8 v-3.2 h-3.2 v-2.8 h3.2 z" fill="#fff" stroke="#1e1e1e" stroke-width="1.1"/>
<circle cx="342.5" cy="397" r="1.5" fill="#fff" stroke="#222" stroke-width="0.8"/>
<circle cx="377.8" cy="397" r="7.6" fill="#fff" stroke="#1e1e1e" stroke-width="1.8"/>
<line x1="371.2" y1="395.8" x2="384.4" y2="395.8" stroke="#2a2a2a" stroke-width="0.8"/>
<line x1="371.2" y1="398.2" x2="384.4" y2="398.2" stroke="#2a2a2a" stroke-width="0.8"/>
<path d="M376.4,392.4 h2.8 v3.2 h3.2 v2.8 h-3.2 v3.2 h-2.8 v-3.2 h-3.2 v-2.8 h3.2 z" fill="#fff" stroke="#1e1e1e" stroke-width="1.1"/>
<circle cx="377.8" cy="397" r="1.5" fill="#fff" stroke="#222" stroke-width="0.8"/>
<circle cx="413.1" cy="397" r="7.6" fill="#fff" stroke="#1e1e1e" stroke-width="1.8"/>
<line x1="406.5" y1="395.8" x2="419.7" y2="395.8" stroke="#2a2a2a" stroke-width="0.8"/>
<line x1="406.5" y1="398.2" x2="419.7" y2="398.2" stroke="#2a2a2a" stroke-width="0.8"/>
<path d="M411.7,392.4 h2.8 v3.2 h3.2 v2.8 h-3.2 v3.2 h-2.8 v-3.2 h-3.2 v-2.8 h3.2 z" fill="#fff" stroke="#1e1e1e" stroke-width="1.1"/>
<circle cx="413.1" cy="397" r="1.5" fill="#fff" stroke="#222" stroke-width="0.8"/>
<circle cx="448.4" cy="397" r="7.6" fill="#fff" stroke="#1e1e1e" stroke-width="1.8"/>
<line x1="441.8" y1="395.8" x2="455" y2="395.8" stroke="#2a2a2a" stroke-width="0.8"/>
<line x1="441.8" y1="398.2" x2="455" y2="398.2" stroke="#2a2a2a" stroke-width="0.8"/>
<path d="M447,392.4 h2.8 v3.2 h3.2 v2.8 h-3.2 v3.2 h-2.8 v-3.2 h-3.2 v-2.8 h3.2 z" fill="#fff" stroke="#1e1e1e" stroke-width="1.1"/>
<circle cx="448.4" cy="397" r="1.5" fill="#fff" stroke="#222" stroke-width="0.8"/>
<path d="M349.6,413 h21.4 v2 q0,3.4 -3.4,3.4 h-14.6 q-3.4,0 -3.4,-3.4 z" fill="#e6e6e6" stroke="#333" stroke-width="0.9"/>
<line x1="352.3" y1="415.6" x2="368.3" y2="415.6" stroke="#555" stroke-width="0.7"/>
<rect x="359.2" y="410.6" width="2.2" height="4" rx="0" fill="#fff" stroke="#333" stroke-width="0.7"/>
<rect x="357.6" y="408" width="5.4" height="2.8" rx="0" fill="#fff" stroke="#333" stroke-width="0.8"/>
<path d="M420.3,413 h21.4 v2 q0,3.4 -3.4,3.4 h-14.6 q-3.4,0 -3.4,-3.4 z" fill="#e6e6e6" stroke="#333" stroke-width="0.9"/>
<line x1="423" y1="415.6" x2="439" y2="415.6" stroke="#555" stroke-width="0.7"/>
<rect x="429.9" y="410.6" width="2.2" height="4" rx="0" fill="#fff" stroke="#333" stroke-width="0.7"/>
<rect x="428.3" y="408" width="5.4" height="2.8" rx="0" fill="#fff" stroke="#333" stroke-width="0.8"/>
<path d="M393.2,408 h5 v2 l-1,2 h-3 l-1,-2 z" fill="#fff" stroke="#333" stroke-width="0.8"/>
<rect x="465.8" y="236.3" width="140" height="193.7" rx="0" fill="#fff" stroke="#333" stroke-width="1.1"/>
<text x="468.4" y="247.6" font-size="8.6" fill="#80e080" font-weight="bold" text-anchor="start">L</text>
<circle cx="483.3" cy="255.1" r="7.6" fill="#fff" stroke="#1e1e1e" stroke-width="1.8"/>
<line x1="476.7" y1="253.9" x2="489.9" y2="253.9" stroke="#2a2a2a" stroke-width="0.8"/>
<line x1="476.7" y1="256.3" x2="489.9" y2="256.3" stroke="#2a2a2a" stroke-width="0.8"/>
<path d="M481.9,250.5 h2.8 v3.2 h3.2 v2.8 h-3.2 v3.2 h-2.8 v-3.2 h-3.2 v-2.8 h3.2 z" fill="#fff" stroke="#1e1e1e" stroke-width="1.1"/>
<circle cx="483.3" cy="255.1" r="1.5" fill="#fff" stroke="#222" stroke-width="0.8"/>
<circle cx="483.3" cy="274.4" r="7.6" fill="#fff" stroke="#1e1e1e" stroke-width="1.8"/>
<line x1="476.7" y1="273.2" x2="489.9" y2="273.2" stroke="#2a2a2a" stroke-width="0.8"/>
<line x1="476.7" y1="275.6" x2="489.9" y2="275.6" stroke="#2a2a2a" stroke-width="0.8"/>
<path d="M481.9,269.8 h2.8 v3.2 h3.2 v2.8 h-3.2 v3.2 h-2.8 v-3.2 h-3.2 v-2.8 h3.2 z" fill="#fff" stroke="#1e1e1e" stroke-width="1.1"/>
<circle cx="483.3" cy="274.4" r="1.5" fill="#fff" stroke="#222" stroke-width="0.8"/>
<rect x="476.3" y="306.3" width="14" height="5" rx="1.2" fill="none" stroke="#333" stroke-width="1"/>
<rect x="466.5" y="320" width="33.6" height="30" rx="1.5" fill="#fff" stroke="#111" stroke-width="1.3"/>
<rect x="471.3" y="325" width="24" height="25" rx="0" fill="#fff" stroke="#333" stroke-width="1"/>
<rect x="479.7" y="332" width="7.2" height="7.2" rx="1" fill="none" stroke="#222" stroke-width="1"/>
<rect x="481.4" y="333.8" width="3.8" height="3.6" rx="0" fill="none" stroke="#333" stroke-width="0.8"/>
<line x1="466.6" y1="350" x2="466.6" y2="363.8" stroke="#000" stroke-width="2"/>
<line x1="500" y1="350" x2="500" y2="363.8" stroke="#000" stroke-width="2"/>
<circle cx="483.3" cy="391.3" r="7.6" fill="#fff" stroke="#1e1e1e" stroke-width="1.8"/>
<line x1="476.7" y1="390.1" x2="489.9" y2="390.1" stroke="#2a2a2a" stroke-width="0.8"/>
<line x1="476.7" y1="392.5" x2="489.9" y2="392.5" stroke="#2a2a2a" stroke-width="0.8"/>
<path d="M481.9,386.7 h2.8 v3.2 h3.2 v2.8 h-3.2 v3.2 h-2.8 v-3.2 h-3.2 v-2.8 h3.2 z" fill="#fff" stroke="#1e1e1e" stroke-width="1.1"/>
<circle cx="483.3" cy="391.3" r="1.5" fill="#fff" stroke="#222" stroke-width="0.8"/>
<circle cx="483.3" cy="411.3" r="7.6" fill="#fff" stroke="#1e1e1e" stroke-width="1.8"/>
<line x1="476.7" y1="410.1" x2="489.9" y2="410.1" stroke="#2a2a2a" stroke-width="0.8"/>
<line x1="476.7" y1="412.5" x2="489.9" y2="412.5" stroke="#2a2a2a" stroke-width="0.8"/>
<path d="M481.9,406.7 h2.8 v3.2 h3.2 v2.8 h-3.2 v3.2 h-2.8 v-3.2 h-3.2 v-2.8 h3.2 z" fill="#fff" stroke="#1e1e1e" stroke-width="1.1"/>
<circle cx="483.3" cy="411.3" r="1.5" fill="#fff" stroke="#222" stroke-width="0.8"/>
<line x1="500.8" y1="236.3" x2="500.8" y2="430" stroke="#333" stroke-width="1"/>
<text x="503.4" y="247.6" font-size="8.6" fill="#80e080" font-weight="bold" text-anchor="start">L</text>
<circle cx="518.3" cy="255.1" r="7.6" fill="#fff" stroke="#1e1e1e" stroke-width="1.8"/>
<line x1="511.7" y1="253.9" x2="524.9" y2="253.9" stroke="#2a2a2a" stroke-width="0.8"/>
<line x1="511.7" y1="256.3" x2="524.9" y2="256.3" stroke="#2a2a2a" stroke-width="0.8"/>
<path d="M516.9,250.5 h2.8 v3.2 h3.2 v2.8 h-3.2 v3.2 h-2.8 v-3.2 h-3.2 v-2.8 h3.2 z" fill="#fff" stroke="#1e1e1e" stroke-width="1.1"/>
<circle cx="518.3" cy="255.1" r="1.5" fill="#fff" stroke="#222" stroke-width="0.8"/>
<circle cx="518.3" cy="274.4" r="7.6" fill="#fff" stroke="#1e1e1e" stroke-width="1.8"/>
<line x1="511.7" y1="273.2" x2="524.9" y2="273.2" stroke="#2a2a2a" stroke-width="0.8"/>
<line x1="511.7" y1="275.6" x2="524.9" y2="275.6" stroke="#2a2a2a" stroke-width="0.8"/>
<path d="M516.9,269.8 h2.8 v3.2 h3.2 v2.8 h-3.2 v3.2 h-2.8 v-3.2 h-3.2 v-2.8 h3.2 z" fill="#fff" stroke="#1e1e1e" stroke-width="1.1"/>
<circle cx="518.3" cy="274.4" r="1.5" fill="#fff" stroke="#222" stroke-width="0.8"/>
<rect x="511.3" y="306.3" width="14" height="5" rx="1.2" fill="none" stroke="#333" stroke-width="1"/>
<rect x="501.5" y="320" width="33.6" height="30" rx="1.5" fill="#fff" stroke="#111" stroke-width="1.3"/>
<rect x="506.3" y="325" width="24" height="25" rx="0" fill="#fff" stroke="#333" stroke-width="1"/>
<rect x="514.7" y="332" width="7.2" height="7.2" rx="1" fill="none" stroke="#222" stroke-width="1"/>
<rect x="516.4" y="333.8" width="3.8" height="3.6" rx="0" fill="none" stroke="#333" stroke-width="0.8"/>
<line x1="501.6" y1="350" x2="501.6" y2="363.8" stroke="#000" stroke-width="2"/>
<line x1="535" y1="350" x2="535" y2="363.8" stroke="#000" stroke-width="2"/>
<circle cx="518.3" cy="391.3" r="7.6" fill="#fff" stroke="#1e1e1e" stroke-width="1.8"/>
<line x1="511.7" y1="390.1" x2="524.9" y2="390.1" stroke="#2a2a2a" stroke-width="0.8"/>
<line x1="511.7" y1="392.5" x2="524.9" y2="392.5" stroke="#2a2a2a" stroke-width="0.8"/>
<path d="M516.9,386.7 h2.8 v3.2 h3.2 v2.8 h-3.2 v3.2 h-2.8 v-3.2 h-3.2 v-2.8 h3.2 z" fill="#fff" stroke="#1e1e1e" stroke-width="1.1"/>
<circle cx="518.3" cy="391.3" r="1.5" fill="#fff" stroke="#222" stroke-width="0.8"/>
<circle cx="518.3" cy="411.3" r="7.6" fill="#fff" stroke="#1e1e1e" stroke-width="1.8"/>
<line x1="511.7" y1="410.1" x2="524.9" y2="410.1" stroke="#2a2a2a" stroke-width="0.8"/>
<line x1="511.7" y1="412.5" x2="524.9" y2="412.5" stroke="#2a2a2a" stroke-width="0.8"/>
<path d="M516.9,406.7 h2.8 v3.2 h3.2 v2.8 h-3.2 v3.2 h-2.8 v-3.2 h-3.2 v-2.8 h3.2 z" fill="#fff" stroke="#1e1e1e" stroke-width="1.1"/>
<circle cx="518.3" cy="411.3" r="1.5" fill="#fff" stroke="#222" stroke-width="0.8"/>
<line x1="535.8" y1="236.3" x2="535.8" y2="430" stroke="#333" stroke-width="1"/>
<text x="538.4" y="247.6" font-size="8.6" fill="#80e080" font-weight="bold" text-anchor="start">L</text>
<circle cx="553.3" cy="255.1" r="7.6" fill="#fff" stroke="#1e1e1e" stroke-width="1.8"/>
<line x1="546.7" y1="253.9" x2="559.9" y2="253.9" stroke="#2a2a2a" stroke-width="0.8"/>
<line x1="546.7" y1="256.3" x2="559.9" y2="256.3" stroke="#2a2a2a" stroke-width="0.8"/>
<path d="M551.9,250.5 h2.8 v3.2 h3.2 v2.8 h-3.2 v3.2 h-2.8 v-3.2 h-3.2 v-2.8 h3.2 z" fill="#fff" stroke="#1e1e1e" stroke-width="1.1"/>
<circle cx="553.3" cy="255.1" r="1.5" fill="#fff" stroke="#222" stroke-width="0.8"/>
<circle cx="553.3" cy="274.4" r="7.6" fill="#fff" stroke="#1e1e1e" stroke-width="1.8"/>
<line x1="546.7" y1="273.2" x2="559.9" y2="273.2" stroke="#2a2a2a" stroke-width="0.8"/>
<line x1="546.7" y1="275.6" x2="559.9" y2="275.6" stroke="#2a2a2a" stroke-width="0.8"/>
<path d="M551.9,269.8 h2.8 v3.2 h3.2 v2.8 h-3.2 v3.2 h-2.8 v-3.2 h-3.2 v-2.8 h3.2 z" fill="#fff" stroke="#1e1e1e" stroke-width="1.1"/>
<circle cx="553.3" cy="274.4" r="1.5" fill="#fff" stroke="#222" stroke-width="0.8"/>
<rect x="546.3" y="306.3" width="14" height="5" rx="1.2" fill="none" stroke="#333" stroke-width="1"/>
<rect x="536.5" y="320" width="33.6" height="30" rx="1.5" fill="#fff" stroke="#111" stroke-width="1.3"/>
<rect x="541.3" y="325" width="24" height="25" rx="0" fill="#fff" stroke="#333" stroke-width="1"/>
<rect x="549.7" y="332" width="7.2" height="7.2" rx="1" fill="none" stroke="#222" stroke-width="1"/>
<rect x="551.4" y="333.8" width="3.8" height="3.6" rx="0" fill="none" stroke="#333" stroke-width="0.8"/>
<line x1="536.6" y1="350" x2="536.6" y2="363.8" stroke="#000" stroke-width="2"/>
<line x1="570" y1="350" x2="570" y2="363.8" stroke="#000" stroke-width="2"/>
<circle cx="553.3" cy="391.3" r="7.6" fill="#fff" stroke="#1e1e1e" stroke-width="1.8"/>
<line x1="546.7" y1="390.1" x2="559.9" y2="390.1" stroke="#2a2a2a" stroke-width="0.8"/>
<line x1="546.7" y1="392.5" x2="559.9" y2="392.5" stroke="#2a2a2a" stroke-width="0.8"/>
<path d="M551.9,386.7 h2.8 v3.2 h3.2 v2.8 h-3.2 v3.2 h-2.8 v-3.2 h-3.2 v-2.8 h3.2 z" fill="#fff" stroke="#1e1e1e" stroke-width="1.1"/>
<circle cx="553.3" cy="391.3" r="1.5" fill="#fff" stroke="#222" stroke-width="0.8"/>
<circle cx="553.3" cy="411.3" r="7.6" fill="#fff" stroke="#1e1e1e" stroke-width="1.8"/>
<line x1="546.7" y1="410.1" x2="559.9" y2="410.1" stroke="#2a2a2a" stroke-width="0.8"/>
<line x1="546.7" y1="412.5" x2="559.9" y2="412.5" stroke="#2a2a2a" stroke-width="0.8"/>
<path d="M551.9,406.7 h2.8 v3.2 h3.2 v2.8 h-3.2 v3.2 h-2.8 v-3.2 h-3.2 v-2.8 h3.2 z" fill="#fff" stroke="#1e1e1e" stroke-width="1.1"/>
<circle cx="553.3" cy="411.3" r="1.5" fill="#fff" stroke="#222" stroke-width="0.8"/>
<line x1="570.8" y1="236.3" x2="570.8" y2="430" stroke="#333" stroke-width="1"/>
<text x="573.4" y="247.6" font-size="8.6" fill="#4ad84a" font-weight="bold" text-anchor="start">N</text>
<circle cx="588.3" cy="255.1" r="7.6" fill="#fff" stroke="#1e1e1e" stroke-width="1.8"/>
<line x1="581.7" y1="253.9" x2="594.9" y2="253.9" stroke="#2a2a2a" stroke-width="0.8"/>
<line x1="581.7" y1="256.3" x2="594.9" y2="256.3" stroke="#2a2a2a" stroke-width="0.8"/>
<path d="M586.9,250.5 h2.8 v3.2 h3.2 v2.8 h-3.2 v3.2 h-2.8 v-3.2 h-3.2 v-2.8 h3.2 z" fill="#fff" stroke="#1e1e1e" stroke-width="1.1"/>
<circle cx="588.3" cy="255.1" r="1.5" fill="#fff" stroke="#222" stroke-width="0.8"/>
<circle cx="588.3" cy="274.4" r="7.6" fill="#fff" stroke="#1e1e1e" stroke-width="1.8"/>
<line x1="581.7" y1="273.2" x2="594.9" y2="273.2" stroke="#2a2a2a" stroke-width="0.8"/>
<line x1="581.7" y1="275.6" x2="594.9" y2="275.6" stroke="#2a2a2a" stroke-width="0.8"/>
<path d="M586.9,269.8 h2.8 v3.2 h3.2 v2.8 h-3.2 v3.2 h-2.8 v-3.2 h-3.2 v-2.8 h3.2 z" fill="#fff" stroke="#1e1e1e" stroke-width="1.1"/>
<circle cx="588.3" cy="274.4" r="1.5" fill="#fff" stroke="#222" stroke-width="0.8"/>
<rect x="581.3" y="306.3" width="14" height="5" rx="1.2" fill="none" stroke="#333" stroke-width="1"/>
<rect x="571.5" y="320" width="33.6" height="30" rx="1.5" fill="#fff" stroke="#111" stroke-width="1.3"/>
<rect x="576.3" y="325" width="24" height="25" rx="0" fill="#fff" stroke="#333" stroke-width="1"/>
<rect x="584.7" y="332" width="7.2" height="7.2" rx="1" fill="none" stroke="#222" stroke-width="1"/>
<rect x="586.4" y="333.8" width="3.8" height="3.6" rx="0" fill="none" stroke="#333" stroke-width="0.8"/>
<line x1="571.6" y1="350" x2="571.6" y2="363.8" stroke="#000" stroke-width="2"/>
<line x1="605" y1="350" x2="605" y2="363.8" stroke="#000" stroke-width="2"/>
<circle cx="588.3" cy="391.3" r="7.6" fill="#fff" stroke="#1e1e1e" stroke-width="1.8"/>
<line x1="581.7" y1="390.1" x2="594.9" y2="390.1" stroke="#2a2a2a" stroke-width="0.8"/>
<line x1="581.7" y1="392.5" x2="594.9" y2="392.5" stroke="#2a2a2a" stroke-width="0.8"/>
<path d="M586.9,386.7 h2.8 v3.2 h3.2 v2.8 h-3.2 v3.2 h-2.8 v-3.2 h-3.2 v-2.8 h3.2 z" fill="#fff" stroke="#1e1e1e" stroke-width="1.1"/>
<circle cx="588.3" cy="391.3" r="1.5" fill="#fff" stroke="#222" stroke-width="0.8"/>
<circle cx="588.3" cy="411.3" r="7.6" fill="#fff" stroke="#1e1e1e" stroke-width="1.8"/>
<line x1="581.7" y1="410.1" x2="594.9" y2="410.1" stroke="#2a2a2a" stroke-width="0.8"/>
<line x1="581.7" y1="412.5" x2="594.9" y2="412.5" stroke="#2a2a2a" stroke-width="0.8"/>
<path d="M586.9,406.7 h2.8 v3.2 h3.2 v2.8 h-3.2 v3.2 h-2.8 v-3.2 h-3.2 v-2.8 h3.2 z" fill="#fff" stroke="#1e1e1e" stroke-width="1.1"/>
<circle cx="588.3" cy="411.3" r="1.5" fill="#fff" stroke="#222" stroke-width="0.8"/>
<line x1="465.8" y1="289.2" x2="605.8" y2="289.2" stroke="#333" stroke-width="1.1"/>
<line x1="465.8" y1="363.8" x2="605.8" y2="363.8" stroke="#222" stroke-width="1.2"/>
<line x1="465.8" y1="377.5" x2="605.8" y2="377.5" stroke="#444" stroke-width="0.9"/>
<line x1="465.8" y1="350" x2="605.8" y2="350" stroke="#111" stroke-width="1.4"/>
<rect x="116.3" y="740.3" width="35.1" height="165.2" rx="0" fill="#fff" stroke="#2a2a2a" stroke-width="1.2"/>
<line x1="116.3" y1="779.3" x2="151.4" y2="779.3" stroke="#222" stroke-width="1.3"/>
<line x1="116.3" y1="866.4" x2="151.4" y2="866.4" stroke="#222" stroke-width="1.3"/>
<line x1="116.3" y1="780" x2="116.3" y2="866" stroke="#111" stroke-width="1.6"/>
<line x1="116.3" y1="744" x2="151.4" y2="744" stroke="#333" stroke-width="0.9"/>
<line x1="116.3" y1="760.6" x2="151.4" y2="760.6" stroke="#333" stroke-width="0.9"/>
<line x1="116.3" y1="901.8" x2="151.4" y2="901.8" stroke="#333" stroke-width="0.9"/>
<line x1="116.3" y1="885.2" x2="151.4" y2="885.2" stroke="#333" stroke-width="0.9"/>
<path d="M121.7,754.9 V744 M130.3,754.9 V744" fill="none" stroke="#444" stroke-width="0.9"/>
<circle cx="126" cy="754.9" r="4.1" fill="#fff" stroke="#222" stroke-width="1.1"/>
<path d="M137.5,754.9 V744 M146.1,754.9 V744" fill="none" stroke="#444" stroke-width="0.9"/>
<circle cx="141.8" cy="754.9" r="4.1" fill="#fff" stroke="#222" stroke-width="1.1"/>
<circle cx="141.8" cy="754.9" r="3.3" fill="#fff" stroke="#111" stroke-width="1.8"/>
<line x1="139.8" y1="752.9" x2="143.8" y2="756.9" stroke="#111" stroke-width="0.8"/>
<line x1="139.8" y1="756.9" x2="143.8" y2="752.9" stroke="#111" stroke-width="0.8"/>
<line x1="141.8" y1="752.3" x2="141.8" y2="757.5" stroke="#111" stroke-width="0.7"/>
<path d="M121.7,771.2 V760.6 M130.3,771.2 V760.6" fill="none" stroke="#444" stroke-width="0.9"/>
<circle cx="126" cy="771.2" r="4.1" fill="#fff" stroke="#222" stroke-width="1.1"/>
<path d="M137.5,771.2 V760.6 M146.1,771.2 V760.6" fill="none" stroke="#444" stroke-width="0.9"/>
<circle cx="141.8" cy="771.2" r="4.1" fill="#fff" stroke="#222" stroke-width="1.1"/>
<path d="M121.9,890.9 V901.8 M130.5,890.9 V901.8" fill="none" stroke="#444" stroke-width="0.9"/>
<circle cx="126.2" cy="890.9" r="4.1" fill="#fff" stroke="#222" stroke-width="1.1"/>
<path d="M137.7,890.9 V901.8 M146.3,890.9 V901.8" fill="none" stroke="#444" stroke-width="0.9"/>
<circle cx="142" cy="890.9" r="4.1" fill="#fff" stroke="#222" stroke-width="1.1"/>
<circle cx="142" cy="890.9" r="3.3" fill="#fff" stroke="#111" stroke-width="1.8"/>
<line x1="140" y1="888.9" x2="144" y2="892.9" stroke="#111" stroke-width="0.8"/>
<line x1="140" y1="892.9" x2="144" y2="888.9" stroke="#111" stroke-width="0.8"/>
<line x1="142" y1="888.3" x2="142" y2="893.5" stroke="#111" stroke-width="0.7"/>
<path d="M121.9,874.6 V885.2 M130.5,874.6 V885.2" fill="none" stroke="#444" stroke-width="0.9"/>
<circle cx="126.2" cy="874.6" r="4.1" fill="#fff" stroke="#222" stroke-width="1.1"/>
<path d="M137.7,874.6 V885.2 M146.3,874.6 V885.2" fill="none" stroke="#444" stroke-width="0.9"/>
<circle cx="142" cy="874.6" r="4.1" fill="#fff" stroke="#222" stroke-width="1.1"/>
<text x="148.8" y="749.4" font-size="4.8" fill="#222" font-weight="normal" text-anchor="middle">1</text>
<text x="148.8" y="899.3" font-size="4.8" fill="#222" font-weight="normal" text-anchor="middle">2</text>
<circle cx="133.8" cy="813.8" r="15.6" fill="#fff" stroke="#222" stroke-width="1.2"/>
<circle cx="133.8" cy="813.8" r="14" fill="none" stroke="#444" stroke-width="0.8"/>
<rect x="151.4" y="742.3" width="34.9" height="161.5" rx="0" fill="#fff" stroke="#333" stroke-width="1"/>
<line x1="151.4" y1="779.3" x2="186.3" y2="779.3" stroke="#444" stroke-width="0.9"/>
<line x1="151.4" y1="867" x2="186.3" y2="867" stroke="#444" stroke-width="0.9"/>
<rect x="192.7" y="901.3" width="22" height="10.1" rx="3" fill="#fff" stroke="#444" stroke-width="0.9"/>
<rect x="196.5" y="905" width="14.1" height="3.3" rx="0" fill="none" stroke="#555" stroke-width="0.8"/>
<rect x="186.3" y="742.1" width="70.4" height="161.2" rx="0" fill="#fff" stroke="#222" stroke-width="1.2"/>
<line x1="186.3" y1="746.3" x2="256.7" y2="746.3" stroke="#555" stroke-width="0.8"/>
<rect x="199.4" y="742.1" width="8" height="7.9" rx="0" fill="#fff" stroke="#444" stroke-width="0.8"/>
<line x1="203.4" y1="742.1" x2="203.4" y2="748" stroke="#555" stroke-width="0.7"/>
<circle cx="203.4" cy="757.6" r="10.4" fill="#fff" stroke="#333" stroke-width="1.2"/>
<circle cx="203.4" cy="757.6" r="8.3" fill="#fff" stroke="#222" stroke-width="1.6"/>
<line x1="196" y1="756.6" x2="210.8" y2="756.6" stroke="#333" stroke-width="0.7"/>
<line x1="196" y1="758.6" x2="210.8" y2="758.6" stroke="#333" stroke-width="0.7"/>
<line x1="203.4" y1="752.6" x2="203.4" y2="762.6" stroke="#333" stroke-width="2.6"/>
<line x1="203.4" y1="753.2" x2="203.4" y2="762" stroke="#fff" stroke-width="0.9"/>
<line x1="199.2" y1="757.6" x2="207.6" y2="757.6" stroke="#111" stroke-width="1.6"/>
<line x1="203.4" y1="754.4" x2="203.4" y2="760.8" stroke="#111" stroke-width="1.6"/>
<line x1="201.4" y1="755.6" x2="205.4" y2="759.6" stroke="#111" stroke-width="1"/>
<line x1="201.4" y1="759.6" x2="205.4" y2="755.6" stroke="#111" stroke-width="1"/>
<line x1="203.4" y1="768" x2="203.4" y2="779.2" stroke="#444" stroke-width="0.8"/>
<rect x="234" y="742.1" width="8" height="7.9" rx="0" fill="#fff" stroke="#444" stroke-width="0.8"/>
<line x1="238" y1="742.1" x2="238" y2="748" stroke="#555" stroke-width="0.7"/>
<circle cx="238" cy="757.6" r="10.4" fill="#fff" stroke="#333" stroke-width="1.2"/>
<circle cx="238" cy="757.6" r="8.3" fill="#fff" stroke="#222" stroke-width="1.6"/>
<line x1="230.6" y1="756.6" x2="245.4" y2="756.6" stroke="#333" stroke-width="0.7"/>
<line x1="230.6" y1="758.6" x2="245.4" y2="758.6" stroke="#333" stroke-width="0.7"/>
<line x1="238" y1="752.6" x2="238" y2="762.6" stroke="#333" stroke-width="2.6"/>
<line x1="238" y1="753.2" x2="238" y2="762" stroke="#fff" stroke-width="0.9"/>
<line x1="233.8" y1="757.6" x2="242.2" y2="757.6" stroke="#111" stroke-width="1.6"/>
<line x1="238" y1="754.4" x2="238" y2="760.8" stroke="#111" stroke-width="1.6"/>
<line x1="236" y1="755.6" x2="240" y2="759.6" stroke="#111" stroke-width="1"/>
<line x1="236" y1="759.6" x2="240" y2="755.6" stroke="#111" stroke-width="1"/>
<line x1="238" y1="768" x2="238" y2="779.2" stroke="#444" stroke-width="0.8"/>
<rect x="193.1" y="768.2" width="6.6" height="7.6" rx="0" fill="none" stroke="#555" stroke-width="0.8"/>
<text x="196.6" y="775.7" font-size="10" fill="#777" font-weight="bold" text-anchor="middle" stroke="#444" stroke-width="0.35">L</text>
<text x="246.3" y="775.8" font-size="10.2" fill="#505050" font-weight="bold" text-anchor="middle" stroke="#444" stroke-width="0.5">N</text>
<rect x="210.7" y="768" width="20.6" height="7.8" rx="2" fill="none" stroke="#444" stroke-width="0.9"/>
<line x1="186.3" y1="779.2" x2="256.7" y2="779.2" stroke="#2a2a2a" stroke-width="1.1"/>
<line x1="186.3" y1="782.5" x2="256.7" y2="782.5" stroke="#666" stroke-width="0.7"/>
<line x1="220.8" y1="779.2" x2="220.8" y2="824.5" stroke="#333" stroke-width="0.9"/>
<rect x="219.6" y="798.9" width="8.4" height="10.3" rx="0" fill="#fff" stroke="#222" stroke-width="1.1"/>
<line x1="220.8" y1="798.9" x2="220.8" y2="809.2" stroke="#333" stroke-width="0.9"/>
<text x="224" y="807.1" font-size="7.8" fill="#555" font-weight="bold" text-anchor="middle">T</text>
<rect x="204.5" y="800" width="12.4" height="9.6" rx="4.6" fill="#fff" stroke="#333" stroke-width="1.2"/>
<rect x="206.3" y="801.7" width="8.8" height="6.2" rx="3" fill="none" stroke="#444" stroke-width="0.8"/>
<line x1="186.3" y1="820.3" x2="256.7" y2="820.3" stroke="#777" stroke-width="0.7"/>
<line x1="186.3" y1="822.6" x2="256.7" y2="822.6" stroke="#222" stroke-width="1.1"/>
<line x1="186.3" y1="824.8" x2="256.7" y2="824.8" stroke="#777" stroke-width="0.7"/>
<rect x="194.8" y="827.4" width="17.3" height="23" rx="0" fill="#fff" stroke="#444" stroke-width="0.9"/>
<rect x="194.8" y="827.4" width="17.3" height="2.6" rx="0" fill="#9a9a9a" stroke="#777" stroke-width="0.5"/>
<line x1="194.8" y1="838.6" x2="212.1" y2="838.6" stroke="#666" stroke-width="0.7"/>
<line x1="194.8" y1="841.7" x2="212.1" y2="841.7" stroke="#666" stroke-width="0.7"/>
<line x1="194.8" y1="846" x2="212.1" y2="846" stroke="#666" stroke-width="0.7"/>
<text x="203.5" y="836.2" font-size="6.2" fill="#111" font-weight="bold" text-anchor="middle" textLength="14.6" lengthAdjust="spacingAndGlyphs" stroke="#111" stroke-width="0.5">O-OFF</text>
<rect x="212.1" y="826.2" width="16" height="24.2" rx="0" fill="#fff" stroke="#555" stroke-width="0.8"/>
<rect x="229.2" y="827.4" width="17.4" height="23" rx="0" fill="#fff" stroke="#444" stroke-width="0.9"/>
<line x1="229.2" y1="830.4" x2="246.6" y2="830.4" stroke="#666" stroke-width="0.7"/>
<line x1="229.2" y1="838.6" x2="246.6" y2="838.6" stroke="#666" stroke-width="0.7"/>
<line x1="229.2" y1="841.7" x2="246.6" y2="841.7" stroke="#666" stroke-width="0.7"/>
<line x1="229.2" y1="846" x2="246.6" y2="846" stroke="#666" stroke-width="0.7"/>
<rect x="187.8" y="850.4" width="62.6" height="13.4" rx="0" fill="#3a3a3a" stroke="#222" stroke-width="0.6"/>
<rect x="187.8" y="853.8" width="25.3" height="6" rx="0" fill="#8c8c8c" stroke="none" stroke-width="0"/>
<rect x="213.1" y="854.6" width="7.2" height="4.6" rx="0" fill="#6a6a6a" stroke="none" stroke-width="0"/>
<path d="M221.3,856.9 L228.1,854.4 L228.1,859.6 Z" fill="#fff" stroke="none" stroke-width="0"/>
<rect x="228.1" y="855.5" width="22.3" height="3" rx="0" fill="#111" stroke="none" stroke-width="0"/>
<line x1="250.4" y1="853.8" x2="256.7" y2="853.8" stroke="#555" stroke-width="0.7"/>
<line x1="250.4" y1="859.8" x2="256.7" y2="859.8" stroke="#555" stroke-width="0.7"/>
<line x1="186.3" y1="866.2" x2="256.7" y2="866.2" stroke="#2a2a2a" stroke-width="1.1"/>
<rect x="193.1" y="868.7" width="6.8" height="7.8" rx="0" fill="none" stroke="#555" stroke-width="0.8"/>
<text x="196.6" y="876.4" font-size="10" fill="#777" font-weight="bold" text-anchor="middle" stroke="#444" stroke-width="0.35">L</text>
<text x="246.1" y="876.3" font-size="10.2" fill="#505050" font-weight="bold" text-anchor="middle" stroke="#444" stroke-width="0.5">N</text>
<rect x="210.9" y="868.5" width="19.6" height="7.1" rx="2" fill="none" stroke="#444" stroke-width="0.9"/>
<path d="M203.4,866.2 V876.5 H238 V866.2" fill="none" stroke="#444" stroke-width="0.8"/>
<rect x="199" y="896" width="8.8" height="7.3" rx="0" fill="#fff" stroke="#444" stroke-width="0.8"/>
<circle cx="203.4" cy="888.4" r="10.4" fill="#fff" stroke="#333" stroke-width="1.2"/>
<circle cx="203.4" cy="888.4" r="8.3" fill="#fff" stroke="#222" stroke-width="1.6"/>
<line x1="196" y1="887.4" x2="210.8" y2="887.4" stroke="#333" stroke-width="0.7"/>
<line x1="196" y1="889.4" x2="210.8" y2="889.4" stroke="#333" stroke-width="0.7"/>
<line x1="203.4" y1="883.4" x2="203.4" y2="893.4" stroke="#333" stroke-width="2.6"/>
<line x1="203.4" y1="884" x2="203.4" y2="892.8" stroke="#fff" stroke-width="0.9"/>
<line x1="199.2" y1="888.4" x2="207.6" y2="888.4" stroke="#111" stroke-width="1.6"/>
<line x1="203.4" y1="885.2" x2="203.4" y2="891.6" stroke="#111" stroke-width="1.6"/>
<line x1="201.4" y1="886.4" x2="205.4" y2="890.4" stroke="#111" stroke-width="1"/>
<line x1="201.4" y1="890.4" x2="205.4" y2="886.4" stroke="#111" stroke-width="1"/>
<rect x="233.6" y="896" width="8.8" height="7.3" rx="0" fill="#fff" stroke="#444" stroke-width="0.8"/>
<circle cx="238" cy="888.4" r="10.4" fill="#fff" stroke="#333" stroke-width="1.2"/>
<circle cx="238" cy="888.4" r="8.3" fill="#fff" stroke="#222" stroke-width="1.6"/>
<line x1="230.6" y1="887.4" x2="245.4" y2="887.4" stroke="#333" stroke-width="0.7"/>
<line x1="230.6" y1="889.4" x2="245.4" y2="889.4" stroke="#333" stroke-width="0.7"/>
<line x1="238" y1="883.4" x2="238" y2="893.4" stroke="#333" stroke-width="2.6"/>
<line x1="238" y1="884" x2="238" y2="892.8" stroke="#fff" stroke-width="0.9"/>
<line x1="233.8" y1="888.4" x2="242.2" y2="888.4" stroke="#111" stroke-width="1.6"/>
<line x1="238" y1="885.2" x2="238" y2="891.6" stroke="#111" stroke-width="1.6"/>
<line x1="236" y1="886.4" x2="240" y2="890.4" stroke="#111" stroke-width="1"/>
<line x1="236" y1="890.4" x2="240" y2="886.4" stroke="#111" stroke-width="1"/>
<rect x="263.1" y="901.3" width="22" height="10.1" rx="3" fill="#fff" stroke="#444" stroke-width="0.9"/>
<rect x="266.9" y="905" width="14.1" height="3.3" rx="0" fill="none" stroke="#555" stroke-width="0.8"/>
<rect x="256.7" y="742.1" width="70.4" height="161.2" rx="0" fill="#fff" stroke="#222" stroke-width="1.2"/>
<line x1="256.7" y1="746.3" x2="327.1" y2="746.3" stroke="#555" stroke-width="0.8"/>
<rect x="269.8" y="742.1" width="8" height="7.9" rx="0" fill="#fff" stroke="#444" stroke-width="0.8"/>
<line x1="273.8" y1="742.1" x2="273.8" y2="748" stroke="#555" stroke-width="0.7"/>
<circle cx="273.8" cy="757.6" r="10.4" fill="#fff" stroke="#333" stroke-width="1.2"/>
<circle cx="273.8" cy="757.6" r="8.3" fill="#fff" stroke="#222" stroke-width="1.6"/>
<line x1="266.4" y1="756.6" x2="281.2" y2="756.6" stroke="#333" stroke-width="0.7"/>
<line x1="266.4" y1="758.6" x2="281.2" y2="758.6" stroke="#333" stroke-width="0.7"/>
<line x1="273.8" y1="752.6" x2="273.8" y2="762.6" stroke="#333" stroke-width="2.6"/>
<line x1="273.8" y1="753.2" x2="273.8" y2="762" stroke="#fff" stroke-width="0.9"/>
<line x1="269.6" y1="757.6" x2="278" y2="757.6" stroke="#111" stroke-width="1.6"/>
<line x1="273.8" y1="754.4" x2="273.8" y2="760.8" stroke="#111" stroke-width="1.6"/>
<line x1="271.8" y1="755.6" x2="275.8" y2="759.6" stroke="#111" stroke-width="1"/>
<line x1="271.8" y1="759.6" x2="275.8" y2="755.6" stroke="#111" stroke-width="1"/>
<line x1="273.8" y1="768" x2="273.8" y2="779.2" stroke="#444" stroke-width="0.8"/>
<rect x="304.4" y="742.1" width="8" height="7.9" rx="0" fill="#fff" stroke="#444" stroke-width="0.8"/>
<line x1="308.4" y1="742.1" x2="308.4" y2="748" stroke="#555" stroke-width="0.7"/>
<circle cx="308.4" cy="757.6" r="10.4" fill="#fff" stroke="#333" stroke-width="1.2"/>
<circle cx="308.4" cy="757.6" r="8.3" fill="#fff" stroke="#222" stroke-width="1.6"/>
<line x1="301" y1="756.6" x2="315.8" y2="756.6" stroke="#333" stroke-width="0.7"/>
<line x1="301" y1="758.6" x2="315.8" y2="758.6" stroke="#333" stroke-width="0.7"/>
<line x1="308.4" y1="752.6" x2="308.4" y2="762.6" stroke="#333" stroke-width="2.6"/>
<line x1="308.4" y1="753.2" x2="308.4" y2="762" stroke="#fff" stroke-width="0.9"/>
<line x1="304.2" y1="757.6" x2="312.6" y2="757.6" stroke="#111" stroke-width="1.6"/>
<line x1="308.4" y1="754.4" x2="308.4" y2="760.8" stroke="#111" stroke-width="1.6"/>
<line x1="306.4" y1="755.6" x2="310.4" y2="759.6" stroke="#111" stroke-width="1"/>
<line x1="306.4" y1="759.6" x2="310.4" y2="755.6" stroke="#111" stroke-width="1"/>
<line x1="308.4" y1="768" x2="308.4" y2="779.2" stroke="#444" stroke-width="0.8"/>
<rect x="263.5" y="768.2" width="6.6" height="7.6" rx="0" fill="none" stroke="#555" stroke-width="0.8"/>
<text x="267" y="775.7" font-size="10" fill="#777" font-weight="bold" text-anchor="middle" stroke="#444" stroke-width="0.35">L</text>
<text x="316.7" y="775.8" font-size="10.2" fill="#505050" font-weight="bold" text-anchor="middle" stroke="#444" stroke-width="0.5">N</text>
<rect x="281.1" y="768" width="20.6" height="7.8" rx="2" fill="none" stroke="#444" stroke-width="0.9"/>
<line x1="256.7" y1="779.2" x2="327.1" y2="779.2" stroke="#2a2a2a" stroke-width="1.1"/>
<line x1="256.7" y1="782.5" x2="327.1" y2="782.5" stroke="#666" stroke-width="0.7"/>
<line x1="291.2" y1="779.2" x2="291.2" y2="824.5" stroke="#333" stroke-width="0.9"/>
<rect x="290" y="798.9" width="8.4" height="10.3" rx="0" fill="#fff" stroke="#222" stroke-width="1.1"/>
<line x1="291.2" y1="798.9" x2="291.2" y2="809.2" stroke="#333" stroke-width="0.9"/>
<text x="294.4" y="807.1" font-size="7.8" fill="#555" font-weight="bold" text-anchor="middle">T</text>
<rect x="274.9" y="800" width="12.4" height="9.6" rx="4.6" fill="#fff" stroke="#333" stroke-width="1.2"/>
<rect x="276.7" y="801.7" width="8.8" height="6.2" rx="3" fill="none" stroke="#444" stroke-width="0.8"/>
<line x1="256.7" y1="820.3" x2="327.1" y2="820.3" stroke="#777" stroke-width="0.7"/>
<line x1="256.7" y1="822.6" x2="327.1" y2="822.6" stroke="#222" stroke-width="1.1"/>
<line x1="256.7" y1="824.8" x2="327.1" y2="824.8" stroke="#777" stroke-width="0.7"/>
<rect x="265.2" y="827.4" width="17.3" height="23" rx="0" fill="#fff" stroke="#444" stroke-width="0.9"/>
<rect x="265.2" y="827.4" width="17.3" height="2.6" rx="0" fill="#9a9a9a" stroke="#777" stroke-width="0.5"/>
<line x1="265.2" y1="838.6" x2="282.5" y2="838.6" stroke="#666" stroke-width="0.7"/>
<line x1="265.2" y1="841.7" x2="282.5" y2="841.7" stroke="#666" stroke-width="0.7"/>
<line x1="265.2" y1="846" x2="282.5" y2="846" stroke="#666" stroke-width="0.7"/>
<text x="273.9" y="836.2" font-size="6.2" fill="#111" font-weight="bold" text-anchor="middle" textLength="14.6" lengthAdjust="spacingAndGlyphs" stroke="#111" stroke-width="0.5">O-OFF</text>
<rect x="282.5" y="826.2" width="16" height="24.2" rx="0" fill="#fff" stroke="#555" stroke-width="0.8"/>
<rect x="299.6" y="827.4" width="17.4" height="23" rx="0" fill="#fff" stroke="#444" stroke-width="0.9"/>
<line x1="299.6" y1="830.4" x2="317" y2="830.4" stroke="#666" stroke-width="0.7"/>
<line x1="299.6" y1="838.6" x2="317" y2="838.6" stroke="#666" stroke-width="0.7"/>
<line x1="299.6" y1="841.7" x2="317" y2="841.7" stroke="#666" stroke-width="0.7"/>
<line x1="299.6" y1="846" x2="317" y2="846" stroke="#666" stroke-width="0.7"/>
<rect x="258.2" y="850.4" width="62.6" height="13.4" rx="0" fill="#3a3a3a" stroke="#222" stroke-width="0.6"/>
<rect x="258.2" y="853.8" width="25.3" height="6" rx="0" fill="#8c8c8c" stroke="none" stroke-width="0"/>
<rect x="283.5" y="854.6" width="7.2" height="4.6" rx="0" fill="#6a6a6a" stroke="none" stroke-width="0"/>
<path d="M291.7,856.9 L298.5,854.4 L298.5,859.6 Z" fill="#fff" stroke="none" stroke-width="0"/>
<rect x="298.5" y="855.5" width="22.3" height="3" rx="0" fill="#111" stroke="none" stroke-width="0"/>
<line x1="320.8" y1="853.8" x2="327.1" y2="853.8" stroke="#555" stroke-width="0.7"/>
<line x1="320.8" y1="859.8" x2="327.1" y2="859.8" stroke="#555" stroke-width="0.7"/>
<line x1="256.7" y1="866.2" x2="327.1" y2="866.2" stroke="#2a2a2a" stroke-width="1.1"/>
<rect x="263.5" y="868.7" width="6.8" height="7.8" rx="0" fill="none" stroke="#555" stroke-width="0.8"/>
<text x="267" y="876.4" font-size="10" fill="#777" font-weight="bold" text-anchor="middle" stroke="#444" stroke-width="0.35">L</text>
<text x="316.5" y="876.3" font-size="10.2" fill="#505050" font-weight="bold" text-anchor="middle" stroke="#444" stroke-width="0.5">N</text>
<rect x="281.3" y="868.5" width="19.6" height="7.1" rx="2" fill="none" stroke="#444" stroke-width="0.9"/>
<path d="M273.8,866.2 V876.5 H308.4 V866.2" fill="none" stroke="#444" stroke-width="0.8"/>
<rect x="269.4" y="896" width="8.8" height="7.3" rx="0" fill="#fff" stroke="#444" stroke-width="0.8"/>
<circle cx="273.8" cy="888.4" r="10.4" fill="#fff" stroke="#333" stroke-width="1.2"/>
<circle cx="273.8" cy="888.4" r="8.3" fill="#fff" stroke="#222" stroke-width="1.6"/>
<line x1="266.4" y1="887.4" x2="281.2" y2="887.4" stroke="#333" stroke-width="0.7"/>
<line x1="266.4" y1="889.4" x2="281.2" y2="889.4" stroke="#333" stroke-width="0.7"/>
<line x1="273.8" y1="883.4" x2="273.8" y2="893.4" stroke="#333" stroke-width="2.6"/>
<line x1="273.8" y1="884" x2="273.8" y2="892.8" stroke="#fff" stroke-width="0.9"/>
<line x1="269.6" y1="888.4" x2="278" y2="888.4" stroke="#111" stroke-width="1.6"/>
<line x1="273.8" y1="885.2" x2="273.8" y2="891.6" stroke="#111" stroke-width="1.6"/>
<line x1="271.8" y1="886.4" x2="275.8" y2="890.4" stroke="#111" stroke-width="1"/>
<line x1="271.8" y1="890.4" x2="275.8" y2="886.4" stroke="#111" stroke-width="1"/>
<rect x="304" y="896" width="8.8" height="7.3" rx="0" fill="#fff" stroke="#444" stroke-width="0.8"/>
<circle cx="308.4" cy="888.4" r="10.4" fill="#fff" stroke="#333" stroke-width="1.2"/>
<circle cx="308.4" cy="888.4" r="8.3" fill="#fff" stroke="#222" stroke-width="1.6"/>
<line x1="301" y1="887.4" x2="315.8" y2="887.4" stroke="#333" stroke-width="0.7"/>
<line x1="301" y1="889.4" x2="315.8" y2="889.4" stroke="#333" stroke-width="0.7"/>
<line x1="308.4" y1="883.4" x2="308.4" y2="893.4" stroke="#333" stroke-width="2.6"/>
<line x1="308.4" y1="884" x2="308.4" y2="892.8" stroke="#fff" stroke-width="0.9"/>
<line x1="304.2" y1="888.4" x2="312.6" y2="888.4" stroke="#111" stroke-width="1.6"/>
<line x1="308.4" y1="885.2" x2="308.4" y2="891.6" stroke="#111" stroke-width="1.6"/>
<line x1="306.4" y1="886.4" x2="310.4" y2="890.4" stroke="#111" stroke-width="1"/>
<line x1="306.4" y1="890.4" x2="310.4" y2="886.4" stroke="#111" stroke-width="1"/>
<rect x="333.5" y="901.3" width="22" height="10.1" rx="3" fill="#fff" stroke="#444" stroke-width="0.9"/>
<rect x="337.3" y="905" width="14.1" height="3.3" rx="0" fill="none" stroke="#555" stroke-width="0.8"/>
<rect x="327.1" y="742.1" width="70.4" height="161.2" rx="0" fill="#fff" stroke="#222" stroke-width="1.2"/>
<line x1="327.1" y1="746.3" x2="397.5" y2="746.3" stroke="#555" stroke-width="0.8"/>
<rect x="340.2" y="742.1" width="8" height="7.9" rx="0" fill="#fff" stroke="#444" stroke-width="0.8"/>
<line x1="344.2" y1="742.1" x2="344.2" y2="748" stroke="#555" stroke-width="0.7"/>
<circle cx="344.2" cy="757.6" r="10.4" fill="#fff" stroke="#333" stroke-width="1.2"/>
<circle cx="344.2" cy="757.6" r="8.3" fill="#fff" stroke="#222" stroke-width="1.6"/>
<line x1="336.8" y1="756.6" x2="351.6" y2="756.6" stroke="#333" stroke-width="0.7"/>
<line x1="336.8" y1="758.6" x2="351.6" y2="758.6" stroke="#333" stroke-width="0.7"/>
<line x1="344.2" y1="752.6" x2="344.2" y2="762.6" stroke="#333" stroke-width="2.6"/>
<line x1="344.2" y1="753.2" x2="344.2" y2="762" stroke="#fff" stroke-width="0.9"/>
<line x1="340" y1="757.6" x2="348.4" y2="757.6" stroke="#111" stroke-width="1.6"/>
<line x1="344.2" y1="754.4" x2="344.2" y2="760.8" stroke="#111" stroke-width="1.6"/>
<line x1="342.2" y1="755.6" x2="346.2" y2="759.6" stroke="#111" stroke-width="1"/>
<line x1="342.2" y1="759.6" x2="346.2" y2="755.6" stroke="#111" stroke-width="1"/>
<line x1="344.2" y1="768" x2="344.2" y2="779.2" stroke="#444" stroke-width="0.8"/>
<rect x="374.8" y="742.1" width="8" height="7.9" rx="0" fill="#fff" stroke="#444" stroke-width="0.8"/>
<line x1="378.8" y1="742.1" x2="378.8" y2="748" stroke="#555" stroke-width="0.7"/>
<circle cx="378.8" cy="757.6" r="10.4" fill="#fff" stroke="#333" stroke-width="1.2"/>
<circle cx="378.8" cy="757.6" r="8.3" fill="#fff" stroke="#222" stroke-width="1.6"/>
<line x1="371.4" y1="756.6" x2="386.2" y2="756.6" stroke="#333" stroke-width="0.7"/>
<line x1="371.4" y1="758.6" x2="386.2" y2="758.6" stroke="#333" stroke-width="0.7"/>
<line x1="378.8" y1="752.6" x2="378.8" y2="762.6" stroke="#333" stroke-width="2.6"/>
<line x1="378.8" y1="753.2" x2="378.8" y2="762" stroke="#fff" stroke-width="0.9"/>
<line x1="374.6" y1="757.6" x2="383" y2="757.6" stroke="#111" stroke-width="1.6"/>
<line x1="378.8" y1="754.4" x2="378.8" y2="760.8" stroke="#111" stroke-width="1.6"/>
<line x1="376.8" y1="755.6" x2="380.8" y2="759.6" stroke="#111" stroke-width="1"/>
<line x1="376.8" y1="759.6" x2="380.8" y2="755.6" stroke="#111" stroke-width="1"/>
<line x1="378.8" y1="768" x2="378.8" y2="779.2" stroke="#444" stroke-width="0.8"/>
<rect x="333.9" y="768.2" width="6.6" height="7.6" rx="0" fill="none" stroke="#555" stroke-width="0.8"/>
<text x="337.4" y="775.7" font-size="10" fill="#777" font-weight="bold" text-anchor="middle" stroke="#444" stroke-width="0.35">L</text>
<text x="387.1" y="775.8" font-size="10.2" fill="#505050" font-weight="bold" text-anchor="middle" stroke="#444" stroke-width="0.5">N</text>
<rect x="351.5" y="768" width="20.6" height="7.8" rx="2" fill="none" stroke="#444" stroke-width="0.9"/>
<line x1="327.1" y1="779.2" x2="397.5" y2="779.2" stroke="#2a2a2a" stroke-width="1.1"/>
<line x1="327.1" y1="782.5" x2="397.5" y2="782.5" stroke="#666" stroke-width="0.7"/>
<line x1="361.6" y1="779.2" x2="361.6" y2="824.5" stroke="#333" stroke-width="0.9"/>
<rect x="360.4" y="798.9" width="8.4" height="10.3" rx="0" fill="#fff" stroke="#222" stroke-width="1.1"/>
<line x1="361.6" y1="798.9" x2="361.6" y2="809.2" stroke="#333" stroke-width="0.9"/>
<text x="364.8" y="807.1" font-size="7.8" fill="#555" font-weight="bold" text-anchor="middle">T</text>
<rect x="345.3" y="800" width="12.4" height="9.6" rx="4.6" fill="#fff" stroke="#333" stroke-width="1.2"/>
<rect x="347.1" y="801.7" width="8.8" height="6.2" rx="3" fill="none" stroke="#444" stroke-width="0.8"/>
<line x1="327.1" y1="820.3" x2="397.5" y2="820.3" stroke="#777" stroke-width="0.7"/>
<line x1="327.1" y1="822.6" x2="397.5" y2="822.6" stroke="#222" stroke-width="1.1"/>
<line x1="327.1" y1="824.8" x2="397.5" y2="824.8" stroke="#777" stroke-width="0.7"/>
<rect x="335.6" y="827.4" width="17.3" height="23" rx="0" fill="#fff" stroke="#444" stroke-width="0.9"/>
<rect x="335.6" y="827.4" width="17.3" height="2.6" rx="0" fill="#9a9a9a" stroke="#777" stroke-width="0.5"/>
<line x1="335.6" y1="838.6" x2="352.9" y2="838.6" stroke="#666" stroke-width="0.7"/>
<line x1="335.6" y1="841.7" x2="352.9" y2="841.7" stroke="#666" stroke-width="0.7"/>
<line x1="335.6" y1="846" x2="352.9" y2="846" stroke="#666" stroke-width="0.7"/>
<text x="344.3" y="836.2" font-size="6.2" fill="#111" font-weight="bold" text-anchor="middle" textLength="14.6" lengthAdjust="spacingAndGlyphs" stroke="#111" stroke-width="0.5">O-OFF</text>
<rect x="352.9" y="826.2" width="16" height="24.2" rx="0" fill="#fff" stroke="#555" stroke-width="0.8"/>
<rect x="370" y="827.4" width="17.4" height="23" rx="0" fill="#fff" stroke="#444" stroke-width="0.9"/>
<line x1="370" y1="830.4" x2="387.4" y2="830.4" stroke="#666" stroke-width="0.7"/>
<line x1="370" y1="838.6" x2="387.4" y2="838.6" stroke="#666" stroke-width="0.7"/>
<line x1="370" y1="841.7" x2="387.4" y2="841.7" stroke="#666" stroke-width="0.7"/>
<line x1="370" y1="846" x2="387.4" y2="846" stroke="#666" stroke-width="0.7"/>
<rect x="328.6" y="850.4" width="62.6" height="13.4" rx="0" fill="#3a3a3a" stroke="#222" stroke-width="0.6"/>
<rect x="328.6" y="853.8" width="25.3" height="6" rx="0" fill="#8c8c8c" stroke="none" stroke-width="0"/>
<rect x="353.9" y="854.6" width="7.2" height="4.6" rx="0" fill="#6a6a6a" stroke="none" stroke-width="0"/>
<path d="M362.1,856.9 L368.9,854.4 L368.9,859.6 Z" fill="#fff" stroke="none" stroke-width="0"/>
<rect x="368.9" y="855.5" width="22.3" height="3" rx="0" fill="#111" stroke="none" stroke-width="0"/>
<line x1="391.2" y1="853.8" x2="397.5" y2="853.8" stroke="#555" stroke-width="0.7"/>
<line x1="391.2" y1="859.8" x2="397.5" y2="859.8" stroke="#555" stroke-width="0.7"/>
<line x1="327.1" y1="866.2" x2="397.5" y2="866.2" stroke="#2a2a2a" stroke-width="1.1"/>
<rect x="333.9" y="868.7" width="6.8" height="7.8" rx="0" fill="none" stroke="#555" stroke-width="0.8"/>
<text x="337.4" y="876.4" font-size="10" fill="#777" font-weight="bold" text-anchor="middle" stroke="#444" stroke-width="0.35">L</text>
<text x="386.9" y="876.3" font-size="10.2" fill="#505050" font-weight="bold" text-anchor="middle" stroke="#444" stroke-width="0.5">N</text>
<rect x="351.7" y="868.5" width="19.6" height="7.1" rx="2" fill="none" stroke="#444" stroke-width="0.9"/>
<path d="M344.2,866.2 V876.5 H378.8 V866.2" fill="none" stroke="#444" stroke-width="0.8"/>
<rect x="339.8" y="896" width="8.8" height="7.3" rx="0" fill="#fff" stroke="#444" stroke-width="0.8"/>
<circle cx="344.2" cy="888.4" r="10.4" fill="#fff" stroke="#333" stroke-width="1.2"/>
<circle cx="344.2" cy="888.4" r="8.3" fill="#fff" stroke="#222" stroke-width="1.6"/>
<line x1="336.8" y1="887.4" x2="351.6" y2="887.4" stroke="#333" stroke-width="0.7"/>
<line x1="336.8" y1="889.4" x2="351.6" y2="889.4" stroke="#333" stroke-width="0.7"/>
<line x1="344.2" y1="883.4" x2="344.2" y2="893.4" stroke="#333" stroke-width="2.6"/>
<line x1="344.2" y1="884" x2="344.2" y2="892.8" stroke="#fff" stroke-width="0.9"/>
<line x1="340" y1="888.4" x2="348.4" y2="888.4" stroke="#111" stroke-width="1.6"/>
<line x1="344.2" y1="885.2" x2="344.2" y2="891.6" stroke="#111" stroke-width="1.6"/>
<line x1="342.2" y1="886.4" x2="346.2" y2="890.4" stroke="#111" stroke-width="1"/>
<line x1="342.2" y1="890.4" x2="346.2" y2="886.4" stroke="#111" stroke-width="1"/>
<rect x="374.4" y="896" width="8.8" height="7.3" rx="0" fill="#fff" stroke="#444" stroke-width="0.8"/>
<circle cx="378.8" cy="888.4" r="10.4" fill="#fff" stroke="#333" stroke-width="1.2"/>
<circle cx="378.8" cy="888.4" r="8.3" fill="#fff" stroke="#222" stroke-width="1.6"/>
<line x1="371.4" y1="887.4" x2="386.2" y2="887.4" stroke="#333" stroke-width="0.7"/>
<line x1="371.4" y1="889.4" x2="386.2" y2="889.4" stroke="#333" stroke-width="0.7"/>
<line x1="378.8" y1="883.4" x2="378.8" y2="893.4" stroke="#333" stroke-width="2.6"/>
<line x1="378.8" y1="884" x2="378.8" y2="892.8" stroke="#fff" stroke-width="0.9"/>
<line x1="374.6" y1="888.4" x2="383" y2="888.4" stroke="#111" stroke-width="1.6"/>
<line x1="378.8" y1="885.2" x2="378.8" y2="891.6" stroke="#111" stroke-width="1.6"/>
<line x1="376.8" y1="886.4" x2="380.8" y2="890.4" stroke="#111" stroke-width="1"/>
<line x1="376.8" y1="890.4" x2="380.8" y2="886.4" stroke="#111" stroke-width="1"/>
<rect x="403.9" y="901.3" width="22" height="10.1" rx="3" fill="#fff" stroke="#444" stroke-width="0.9"/>
<rect x="407.7" y="905" width="14.1" height="3.3" rx="0" fill="none" stroke="#555" stroke-width="0.8"/>
<rect x="397.5" y="742.1" width="70.4" height="161.2" rx="0" fill="#fff" stroke="#222" stroke-width="1.2"/>
<line x1="397.5" y1="746.3" x2="467.9" y2="746.3" stroke="#555" stroke-width="0.8"/>
<rect x="410.6" y="742.1" width="8" height="7.9" rx="0" fill="#fff" stroke="#444" stroke-width="0.8"/>
<line x1="414.6" y1="742.1" x2="414.6" y2="748" stroke="#555" stroke-width="0.7"/>
<circle cx="414.6" cy="757.6" r="10.4" fill="#fff" stroke="#333" stroke-width="1.2"/>
<circle cx="414.6" cy="757.6" r="8.3" fill="#fff" stroke="#222" stroke-width="1.6"/>
<line x1="407.2" y1="756.6" x2="422" y2="756.6" stroke="#333" stroke-width="0.7"/>
<line x1="407.2" y1="758.6" x2="422" y2="758.6" stroke="#333" stroke-width="0.7"/>
<line x1="414.6" y1="752.6" x2="414.6" y2="762.6" stroke="#333" stroke-width="2.6"/>
<line x1="414.6" y1="753.2" x2="414.6" y2="762" stroke="#fff" stroke-width="0.9"/>
<line x1="410.4" y1="757.6" x2="418.8" y2="757.6" stroke="#111" stroke-width="1.6"/>
<line x1="414.6" y1="754.4" x2="414.6" y2="760.8" stroke="#111" stroke-width="1.6"/>
<line x1="412.6" y1="755.6" x2="416.6" y2="759.6" stroke="#111" stroke-width="1"/>
<line x1="412.6" y1="759.6" x2="416.6" y2="755.6" stroke="#111" stroke-width="1"/>
<line x1="414.6" y1="768" x2="414.6" y2="779.2" stroke="#444" stroke-width="0.8"/>
<rect x="445.2" y="742.1" width="8" height="7.9" rx="0" fill="#fff" stroke="#444" stroke-width="0.8"/>
<line x1="449.2" y1="742.1" x2="449.2" y2="748" stroke="#555" stroke-width="0.7"/>
<circle cx="449.2" cy="757.6" r="10.4" fill="#fff" stroke="#333" stroke-width="1.2"/>
<circle cx="449.2" cy="757.6" r="8.3" fill="#fff" stroke="#222" stroke-width="1.6"/>
<line x1="441.8" y1="756.6" x2="456.6" y2="756.6" stroke="#333" stroke-width="0.7"/>
<line x1="441.8" y1="758.6" x2="456.6" y2="758.6" stroke="#333" stroke-width="0.7"/>
<line x1="449.2" y1="752.6" x2="449.2" y2="762.6" stroke="#333" stroke-width="2.6"/>
<line x1="449.2" y1="753.2" x2="449.2" y2="762" stroke="#fff" stroke-width="0.9"/>
<line x1="445" y1="757.6" x2="453.4" y2="757.6" stroke="#111" stroke-width="1.6"/>
<line x1="449.2" y1="754.4" x2="449.2" y2="760.8" stroke="#111" stroke-width="1.6"/>
<line x1="447.2" y1="755.6" x2="451.2" y2="759.6" stroke="#111" stroke-width="1"/>
<line x1="447.2" y1="759.6" x2="451.2" y2="755.6" stroke="#111" stroke-width="1"/>
<line x1="449.2" y1="768" x2="449.2" y2="779.2" stroke="#444" stroke-width="0.8"/>
<rect x="404.3" y="768.2" width="6.6" height="7.6" rx="0" fill="none" stroke="#555" stroke-width="0.8"/>
<text x="407.8" y="775.7" font-size="10" fill="#777" font-weight="bold" text-anchor="middle" stroke="#444" stroke-width="0.35">L</text>
<text x="457.5" y="775.8" font-size="10.2" fill="#505050" font-weight="bold" text-anchor="middle" stroke="#444" stroke-width="0.5">N</text>
<rect x="421.9" y="768" width="20.6" height="7.8" rx="2" fill="none" stroke="#444" stroke-width="0.9"/>
<line x1="397.5" y1="779.2" x2="467.9" y2="779.2" stroke="#2a2a2a" stroke-width="1.1"/>
<line x1="397.5" y1="782.5" x2="467.9" y2="782.5" stroke="#666" stroke-width="0.7"/>
<line x1="432" y1="779.2" x2="432" y2="824.5" stroke="#333" stroke-width="0.9"/>
<rect x="430.8" y="798.9" width="8.4" height="10.3" rx="0" fill="#fff" stroke="#222" stroke-width="1.1"/>
<line x1="432" y1="798.9" x2="432" y2="809.2" stroke="#333" stroke-width="0.9"/>
<text x="435.2" y="807.1" font-size="7.8" fill="#555" font-weight="bold" text-anchor="middle">T</text>
<rect x="415.7" y="800" width="12.4" height="9.6" rx="4.6" fill="#fff" stroke="#333" stroke-width="1.2"/>
<rect x="417.5" y="801.7" width="8.8" height="6.2" rx="3" fill="none" stroke="#444" stroke-width="0.8"/>
<line x1="397.5" y1="820.3" x2="467.9" y2="820.3" stroke="#777" stroke-width="0.7"/>
<line x1="397.5" y1="822.6" x2="467.9" y2="822.6" stroke="#222" stroke-width="1.1"/>
<line x1="397.5" y1="824.8" x2="467.9" y2="824.8" stroke="#777" stroke-width="0.7"/>
<rect x="406" y="827.4" width="17.3" height="23" rx="0" fill="#fff" stroke="#444" stroke-width="0.9"/>
<rect x="406" y="827.4" width="17.3" height="2.6" rx="0" fill="#9a9a9a" stroke="#777" stroke-width="0.5"/>
<line x1="406" y1="838.6" x2="423.3" y2="838.6" stroke="#666" stroke-width="0.7"/>
<line x1="406" y1="841.7" x2="423.3" y2="841.7" stroke="#666" stroke-width="0.7"/>
<line x1="406" y1="846" x2="423.3" y2="846" stroke="#666" stroke-width="0.7"/>
<text x="414.7" y="836.2" font-size="6.2" fill="#111" font-weight="bold" text-anchor="middle" textLength="14.6" lengthAdjust="spacingAndGlyphs" stroke="#111" stroke-width="0.5">O-OFF</text>
<rect x="423.3" y="826.2" width="16" height="24.2" rx="0" fill="#fff" stroke="#555" stroke-width="0.8"/>
<rect x="440.4" y="827.4" width="17.4" height="23" rx="0" fill="#fff" stroke="#444" stroke-width="0.9"/>
<line x1="440.4" y1="830.4" x2="457.8" y2="830.4" stroke="#666" stroke-width="0.7"/>
<line x1="440.4" y1="838.6" x2="457.8" y2="838.6" stroke="#666" stroke-width="0.7"/>
<line x1="440.4" y1="841.7" x2="457.8" y2="841.7" stroke="#666" stroke-width="0.7"/>
<line x1="440.4" y1="846" x2="457.8" y2="846" stroke="#666" stroke-width="0.7"/>
<rect x="399" y="850.4" width="62.6" height="13.4" rx="0" fill="#3a3a3a" stroke="#222" stroke-width="0.6"/>
<rect x="399" y="853.8" width="25.3" height="6" rx="0" fill="#8c8c8c" stroke="none" stroke-width="0"/>
<rect x="424.3" y="854.6" width="7.2" height="4.6" rx="0" fill="#6a6a6a" stroke="none" stroke-width="0"/>
<path d="M432.5,856.9 L439.3,854.4 L439.3,859.6 Z" fill="#fff" stroke="none" stroke-width="0"/>
<rect x="439.3" y="855.5" width="22.3" height="3" rx="0" fill="#111" stroke="none" stroke-width="0"/>
<line x1="461.6" y1="853.8" x2="467.9" y2="853.8" stroke="#555" stroke-width="0.7"/>
<line x1="461.6" y1="859.8" x2="467.9" y2="859.8" stroke="#555" stroke-width="0.7"/>
<line x1="397.5" y1="866.2" x2="467.9" y2="866.2" stroke="#2a2a2a" stroke-width="1.1"/>
<rect x="404.3" y="868.7" width="6.8" height="7.8" rx="0" fill="none" stroke="#555" stroke-width="0.8"/>
<text x="407.8" y="876.4" font-size="10" fill="#777" font-weight="bold" text-anchor="middle" stroke="#444" stroke-width="0.35">L</text>
<text x="457.3" y="876.3" font-size="10.2" fill="#505050" font-weight="bold" text-anchor="middle" stroke="#444" stroke-width="0.5">N</text>
<rect x="422.1" y="868.5" width="19.6" height="7.1" rx="2" fill="none" stroke="#444" stroke-width="0.9"/>
<path d="M414.6,866.2 V876.5 H449.2 V866.2" fill="none" stroke="#444" stroke-width="0.8"/>
<rect x="410.2" y="896" width="8.8" height="7.3" rx="0" fill="#fff" stroke="#444" stroke-width="0.8"/>
<circle cx="414.6" cy="888.4" r="10.4" fill="#fff" stroke="#333" stroke-width="1.2"/>
<circle cx="414.6" cy="888.4" r="8.3" fill="#fff" stroke="#222" stroke-width="1.6"/>
<line x1="407.2" y1="887.4" x2="422" y2="887.4" stroke="#333" stroke-width="0.7"/>
<line x1="407.2" y1="889.4" x2="422" y2="889.4" stroke="#333" stroke-width="0.7"/>
<line x1="414.6" y1="883.4" x2="414.6" y2="893.4" stroke="#333" stroke-width="2.6"/>
<line x1="414.6" y1="884" x2="414.6" y2="892.8" stroke="#fff" stroke-width="0.9"/>
<line x1="410.4" y1="888.4" x2="418.8" y2="888.4" stroke="#111" stroke-width="1.6"/>
<line x1="414.6" y1="885.2" x2="414.6" y2="891.6" stroke="#111" stroke-width="1.6"/>
<line x1="412.6" y1="886.4" x2="416.6" y2="890.4" stroke="#111" stroke-width="1"/>
<line x1="412.6" y1="890.4" x2="416.6" y2="886.4" stroke="#111" stroke-width="1"/>
<rect x="444.8" y="896" width="8.8" height="7.3" rx="0" fill="#fff" stroke="#444" stroke-width="0.8"/>
<circle cx="449.2" cy="888.4" r="10.4" fill="#fff" stroke="#333" stroke-width="1.2"/>
<circle cx="449.2" cy="888.4" r="8.3" fill="#fff" stroke="#222" stroke-width="1.6"/>
<line x1="441.8" y1="887.4" x2="456.6" y2="887.4" stroke="#333" stroke-width="0.7"/>
<line x1="441.8" y1="889.4" x2="456.6" y2="889.4" stroke="#333" stroke-width="0.7"/>
<line x1="449.2" y1="883.4" x2="449.2" y2="893.4" stroke="#333" stroke-width="2.6"/>
<line x1="449.2" y1="884" x2="449.2" y2="892.8" stroke="#fff" stroke-width="0.9"/>
<line x1="445" y1="888.4" x2="453.4" y2="888.4" stroke="#111" stroke-width="1.6"/>
<line x1="449.2" y1="885.2" x2="449.2" y2="891.6" stroke="#111" stroke-width="1.6"/>
<line x1="447.2" y1="886.4" x2="451.2" y2="890.4" stroke="#111" stroke-width="1"/>
<line x1="447.2" y1="890.4" x2="451.2" y2="886.4" stroke="#111" stroke-width="1"/>
<rect x="474.3" y="901.3" width="22" height="10.1" rx="3" fill="#fff" stroke="#444" stroke-width="0.9"/>
<rect x="478.1" y="905" width="14.1" height="3.3" rx="0" fill="none" stroke="#555" stroke-width="0.8"/>
<rect x="467.9" y="742.1" width="70.4" height="161.2" rx="0" fill="#fff" stroke="#222" stroke-width="1.2"/>
<line x1="467.9" y1="746.3" x2="538.3" y2="746.3" stroke="#555" stroke-width="0.8"/>
<rect x="481" y="742.1" width="8" height="7.9" rx="0" fill="#fff" stroke="#444" stroke-width="0.8"/>
<line x1="485" y1="742.1" x2="485" y2="748" stroke="#555" stroke-width="0.7"/>
<circle cx="485" cy="757.6" r="10.4" fill="#fff" stroke="#333" stroke-width="1.2"/>
<circle cx="485" cy="757.6" r="8.3" fill="#fff" stroke="#222" stroke-width="1.6"/>
<line x1="477.6" y1="756.6" x2="492.4" y2="756.6" stroke="#333" stroke-width="0.7"/>
<line x1="477.6" y1="758.6" x2="492.4" y2="758.6" stroke="#333" stroke-width="0.7"/>
<line x1="485" y1="752.6" x2="485" y2="762.6" stroke="#333" stroke-width="2.6"/>
<line x1="485" y1="753.2" x2="485" y2="762" stroke="#fff" stroke-width="0.9"/>
<line x1="480.8" y1="757.6" x2="489.2" y2="757.6" stroke="#111" stroke-width="1.6"/>
<line x1="485" y1="754.4" x2="485" y2="760.8" stroke="#111" stroke-width="1.6"/>
<line x1="483" y1="755.6" x2="487" y2="759.6" stroke="#111" stroke-width="1"/>
<line x1="483" y1="759.6" x2="487" y2="755.6" stroke="#111" stroke-width="1"/>
<line x1="485" y1="768" x2="485" y2="779.2" stroke="#444" stroke-width="0.8"/>
<rect x="515.6" y="742.1" width="8" height="7.9" rx="0" fill="#fff" stroke="#444" stroke-width="0.8"/>
<line x1="519.6" y1="742.1" x2="519.6" y2="748" stroke="#555" stroke-width="0.7"/>
<circle cx="519.6" cy="757.6" r="10.4" fill="#fff" stroke="#333" stroke-width="1.2"/>
<circle cx="519.6" cy="757.6" r="8.3" fill="#fff" stroke="#222" stroke-width="1.6"/>
<line x1="512.2" y1="756.6" x2="527" y2="756.6" stroke="#333" stroke-width="0.7"/>
<line x1="512.2" y1="758.6" x2="527" y2="758.6" stroke="#333" stroke-width="0.7"/>
<line x1="519.6" y1="752.6" x2="519.6" y2="762.6" stroke="#333" stroke-width="2.6"/>
<line x1="519.6" y1="753.2" x2="519.6" y2="762" stroke="#fff" stroke-width="0.9"/>
<line x1="515.4" y1="757.6" x2="523.8" y2="757.6" stroke="#111" stroke-width="1.6"/>
<line x1="519.6" y1="754.4" x2="519.6" y2="760.8" stroke="#111" stroke-width="1.6"/>
<line x1="517.6" y1="755.6" x2="521.6" y2="759.6" stroke="#111" stroke-width="1"/>
<line x1="517.6" y1="759.6" x2="521.6" y2="755.6" stroke="#111" stroke-width="1"/>
<line x1="519.6" y1="768" x2="519.6" y2="779.2" stroke="#444" stroke-width="0.8"/>
<rect x="474.7" y="768.2" width="6.6" height="7.6" rx="0" fill="none" stroke="#555" stroke-width="0.8"/>
<text x="478.2" y="775.7" font-size="10" fill="#777" font-weight="bold" text-anchor="middle" stroke="#444" stroke-width="0.35">L</text>
<text x="527.9" y="775.8" font-size="10.2" fill="#505050" font-weight="bold" text-anchor="middle" stroke="#444" stroke-width="0.5">N</text>
<rect x="492.3" y="768" width="20.6" height="7.8" rx="2" fill="none" stroke="#444" stroke-width="0.9"/>
<line x1="467.9" y1="779.2" x2="538.3" y2="779.2" stroke="#2a2a2a" stroke-width="1.1"/>
<line x1="467.9" y1="782.5" x2="538.3" y2="782.5" stroke="#666" stroke-width="0.7"/>
<line x1="502.4" y1="779.2" x2="502.4" y2="824.5" stroke="#333" stroke-width="0.9"/>
<rect x="501.2" y="798.9" width="8.4" height="10.3" rx="0" fill="#fff" stroke="#222" stroke-width="1.1"/>
<line x1="502.4" y1="798.9" x2="502.4" y2="809.2" stroke="#333" stroke-width="0.9"/>
<text x="505.6" y="807.1" font-size="7.8" fill="#555" font-weight="bold" text-anchor="middle">T</text>
<rect x="486.1" y="800" width="12.4" height="9.6" rx="4.6" fill="#fff" stroke="#333" stroke-width="1.2"/>
<rect x="487.9" y="801.7" width="8.8" height="6.2" rx="3" fill="none" stroke="#444" stroke-width="0.8"/>
<line x1="467.9" y1="820.3" x2="538.3" y2="820.3" stroke="#777" stroke-width="0.7"/>
<line x1="467.9" y1="822.6" x2="538.3" y2="822.6" stroke="#222" stroke-width="1.1"/>
<line x1="467.9" y1="824.8" x2="538.3" y2="824.8" stroke="#777" stroke-width="0.7"/>
<rect x="476.4" y="827.4" width="17.3" height="23" rx="0" fill="#fff" stroke="#444" stroke-width="0.9"/>
<rect x="476.4" y="827.4" width="17.3" height="2.6" rx="0" fill="#9a9a9a" stroke="#777" stroke-width="0.5"/>
<line x1="476.4" y1="838.6" x2="493.7" y2="838.6" stroke="#666" stroke-width="0.7"/>
<line x1="476.4" y1="841.7" x2="493.7" y2="841.7" stroke="#666" stroke-width="0.7"/>
<line x1="476.4" y1="846" x2="493.7" y2="846" stroke="#666" stroke-width="0.7"/>
<text x="485.1" y="836.2" font-size="6.2" fill="#111" font-weight="bold" text-anchor="middle" textLength="14.6" lengthAdjust="spacingAndGlyphs" stroke="#111" stroke-width="0.5">O-OFF</text>
<rect x="493.7" y="826.2" width="16" height="24.2" rx="0" fill="#fff" stroke="#555" stroke-width="0.8"/>
<rect x="510.8" y="827.4" width="17.4" height="23" rx="0" fill="#fff" stroke="#444" stroke-width="0.9"/>
<line x1="510.8" y1="830.4" x2="528.2" y2="830.4" stroke="#666" stroke-width="0.7"/>
<line x1="510.8" y1="838.6" x2="528.2" y2="838.6" stroke="#666" stroke-width="0.7"/>
<line x1="510.8" y1="841.7" x2="528.2" y2="841.7" stroke="#666" stroke-width="0.7"/>
<line x1="510.8" y1="846" x2="528.2" y2="846" stroke="#666" stroke-width="0.7"/>
<rect x="469.4" y="850.4" width="62.6" height="13.4" rx="0" fill="#3a3a3a" stroke="#222" stroke-width="0.6"/>
<rect x="469.4" y="853.8" width="25.3" height="6" rx="0" fill="#8c8c8c" stroke="none" stroke-width="0"/>
<rect x="494.7" y="854.6" width="7.2" height="4.6" rx="0" fill="#6a6a6a" stroke="none" stroke-width="0"/>
<path d="M502.9,856.9 L509.7,854.4 L509.7,859.6 Z" fill="#fff" stroke="none" stroke-width="0"/>
<rect x="509.7" y="855.5" width="22.3" height="3" rx="0" fill="#111" stroke="none" stroke-width="0"/>
<line x1="532" y1="853.8" x2="538.3" y2="853.8" stroke="#555" stroke-width="0.7"/>
<line x1="532" y1="859.8" x2="538.3" y2="859.8" stroke="#555" stroke-width="0.7"/>
<line x1="467.9" y1="866.2" x2="538.3" y2="866.2" stroke="#2a2a2a" stroke-width="1.1"/>
<rect x="474.7" y="868.7" width="6.8" height="7.8" rx="0" fill="none" stroke="#555" stroke-width="0.8"/>
<text x="478.2" y="876.4" font-size="10" fill="#777" font-weight="bold" text-anchor="middle" stroke="#444" stroke-width="0.35">L</text>
<text x="527.7" y="876.3" font-size="10.2" fill="#505050" font-weight="bold" text-anchor="middle" stroke="#444" stroke-width="0.5">N</text>
<rect x="492.5" y="868.5" width="19.6" height="7.1" rx="2" fill="none" stroke="#444" stroke-width="0.9"/>
<path d="M485,866.2 V876.5 H519.6 V866.2" fill="none" stroke="#444" stroke-width="0.8"/>
<rect x="480.6" y="896" width="8.8" height="7.3" rx="0" fill="#fff" stroke="#444" stroke-width="0.8"/>
<circle cx="485" cy="888.4" r="10.4" fill="#fff" stroke="#333" stroke-width="1.2"/>
<circle cx="485" cy="888.4" r="8.3" fill="#fff" stroke="#222" stroke-width="1.6"/>
<line x1="477.6" y1="887.4" x2="492.4" y2="887.4" stroke="#333" stroke-width="0.7"/>
<line x1="477.6" y1="889.4" x2="492.4" y2="889.4" stroke="#333" stroke-width="0.7"/>
<line x1="485" y1="883.4" x2="485" y2="893.4" stroke="#333" stroke-width="2.6"/>
<line x1="485" y1="884" x2="485" y2="892.8" stroke="#fff" stroke-width="0.9"/>
<line x1="480.8" y1="888.4" x2="489.2" y2="888.4" stroke="#111" stroke-width="1.6"/>
<line x1="485" y1="885.2" x2="485" y2="891.6" stroke="#111" stroke-width="1.6"/>
<line x1="483" y1="886.4" x2="487" y2="890.4" stroke="#111" stroke-width="1"/>
<line x1="483" y1="890.4" x2="487" y2="886.4" stroke="#111" stroke-width="1"/>
<rect x="515.2" y="896" width="8.8" height="7.3" rx="0" fill="#fff" stroke="#444" stroke-width="0.8"/>
<circle cx="519.6" cy="888.4" r="10.4" fill="#fff" stroke="#333" stroke-width="1.2"/>
<circle cx="519.6" cy="888.4" r="8.3" fill="#fff" stroke="#222" stroke-width="1.6"/>
<line x1="512.2" y1="887.4" x2="527" y2="887.4" stroke="#333" stroke-width="0.7"/>
<line x1="512.2" y1="889.4" x2="527" y2="889.4" stroke="#333" stroke-width="0.7"/>
<line x1="519.6" y1="883.4" x2="519.6" y2="893.4" stroke="#333" stroke-width="2.6"/>
<line x1="519.6" y1="884" x2="519.6" y2="892.8" stroke="#fff" stroke-width="0.9"/>
<line x1="515.4" y1="888.4" x2="523.8" y2="888.4" stroke="#111" stroke-width="1.6"/>
<line x1="519.6" y1="885.2" x2="519.6" y2="891.6" stroke="#111" stroke-width="1.6"/>
<line x1="517.6" y1="886.4" x2="521.6" y2="890.4" stroke="#111" stroke-width="1"/>
<line x1="517.6" y1="890.4" x2="521.6" y2="886.4" stroke="#111" stroke-width="1"/>
<rect x="544.7" y="901.3" width="22" height="10.1" rx="3" fill="#fff" stroke="#444" stroke-width="0.9"/>
<rect x="548.5" y="905" width="14.1" height="3.3" rx="0" fill="none" stroke="#555" stroke-width="0.8"/>
<rect x="538.3" y="742.1" width="70.4" height="161.2" rx="0" fill="#fff" stroke="#222" stroke-width="1.2"/>
<line x1="538.3" y1="746.3" x2="608.7" y2="746.3" stroke="#555" stroke-width="0.8"/>
<rect x="551.4" y="742.1" width="8" height="7.9" rx="0" fill="#fff" stroke="#444" stroke-width="0.8"/>
<line x1="555.4" y1="742.1" x2="555.4" y2="748" stroke="#555" stroke-width="0.7"/>
<circle cx="555.4" cy="757.6" r="10.4" fill="#fff" stroke="#333" stroke-width="1.2"/>
<circle cx="555.4" cy="757.6" r="8.3" fill="#fff" stroke="#222" stroke-width="1.6"/>
<line x1="548" y1="756.6" x2="562.8" y2="756.6" stroke="#333" stroke-width="0.7"/>
<line x1="548" y1="758.6" x2="562.8" y2="758.6" stroke="#333" stroke-width="0.7"/>
<line x1="555.4" y1="752.6" x2="555.4" y2="762.6" stroke="#333" stroke-width="2.6"/>
<line x1="555.4" y1="753.2" x2="555.4" y2="762" stroke="#fff" stroke-width="0.9"/>
<line x1="551.2" y1="757.6" x2="559.6" y2="757.6" stroke="#111" stroke-width="1.6"/>
<line x1="555.4" y1="754.4" x2="555.4" y2="760.8" stroke="#111" stroke-width="1.6"/>
<line x1="553.4" y1="755.6" x2="557.4" y2="759.6" stroke="#111" stroke-width="1"/>
<line x1="553.4" y1="759.6" x2="557.4" y2="755.6" stroke="#111" stroke-width="1"/>
<line x1="555.4" y1="768" x2="555.4" y2="779.2" stroke="#444" stroke-width="0.8"/>
<rect x="586" y="742.1" width="8" height="7.9" rx="0" fill="#fff" stroke="#444" stroke-width="0.8"/>
<line x1="590" y1="742.1" x2="590" y2="748" stroke="#555" stroke-width="0.7"/>
<circle cx="590" cy="757.6" r="10.4" fill="#fff" stroke="#333" stroke-width="1.2"/>
<circle cx="590" cy="757.6" r="8.3" fill="#fff" stroke="#222" stroke-width="1.6"/>
<line x1="582.6" y1="756.6" x2="597.4" y2="756.6" stroke="#333" stroke-width="0.7"/>
<line x1="582.6" y1="758.6" x2="597.4" y2="758.6" stroke="#333" stroke-width="0.7"/>
<line x1="590" y1="752.6" x2="590" y2="762.6" stroke="#333" stroke-width="2.6"/>
<line x1="590" y1="753.2" x2="590" y2="762" stroke="#fff" stroke-width="0.9"/>
<line x1="585.8" y1="757.6" x2="594.2" y2="757.6" stroke="#111" stroke-width="1.6"/>
<line x1="590" y1="754.4" x2="590" y2="760.8" stroke="#111" stroke-width="1.6"/>
<line x1="588" y1="755.6" x2="592" y2="759.6" stroke="#111" stroke-width="1"/>
<line x1="588" y1="759.6" x2="592" y2="755.6" stroke="#111" stroke-width="1"/>
<line x1="590" y1="768" x2="590" y2="779.2" stroke="#444" stroke-width="0.8"/>
<rect x="545.1" y="768.2" width="6.6" height="7.6" rx="0" fill="none" stroke="#555" stroke-width="0.8"/>
<text x="548.6" y="775.7" font-size="10" fill="#777" font-weight="bold" text-anchor="middle" stroke="#444" stroke-width="0.35">L</text>
<text x="598.3" y="775.8" font-size="10.2" fill="#505050" font-weight="bold" text-anchor="middle" stroke="#444" stroke-width="0.5">N</text>
<rect x="562.7" y="768" width="20.6" height="7.8" rx="2" fill="none" stroke="#444" stroke-width="0.9"/>
<line x1="538.3" y1="779.2" x2="608.7" y2="779.2" stroke="#2a2a2a" stroke-width="1.1"/>
<line x1="538.3" y1="782.5" x2="608.7" y2="782.5" stroke="#666" stroke-width="0.7"/>
<line x1="572.8" y1="779.2" x2="572.8" y2="824.5" stroke="#333" stroke-width="0.9"/>
<rect x="571.6" y="798.9" width="8.4" height="10.3" rx="0" fill="#fff" stroke="#222" stroke-width="1.1"/>
<line x1="572.8" y1="798.9" x2="572.8" y2="809.2" stroke="#333" stroke-width="0.9"/>
<text x="576" y="807.1" font-size="7.8" fill="#555" font-weight="bold" text-anchor="middle">T</text>
<rect x="556.5" y="800" width="12.4" height="9.6" rx="4.6" fill="#fff" stroke="#333" stroke-width="1.2"/>
<rect x="558.3" y="801.7" width="8.8" height="6.2" rx="3" fill="none" stroke="#444" stroke-width="0.8"/>
<line x1="538.3" y1="820.3" x2="608.7" y2="820.3" stroke="#777" stroke-width="0.7"/>
<line x1="538.3" y1="822.6" x2="608.7" y2="822.6" stroke="#222" stroke-width="1.1"/>
<line x1="538.3" y1="824.8" x2="608.7" y2="824.8" stroke="#777" stroke-width="0.7"/>
<rect x="546.8" y="827.4" width="17.3" height="23" rx="0" fill="#fff" stroke="#444" stroke-width="0.9"/>
<rect x="546.8" y="827.4" width="17.3" height="2.6" rx="0" fill="#9a9a9a" stroke="#777" stroke-width="0.5"/>
<line x1="546.8" y1="838.6" x2="564.1" y2="838.6" stroke="#666" stroke-width="0.7"/>
<line x1="546.8" y1="841.7" x2="564.1" y2="841.7" stroke="#666" stroke-width="0.7"/>
<line x1="546.8" y1="846" x2="564.1" y2="846" stroke="#666" stroke-width="0.7"/>
<text x="555.5" y="836.2" font-size="6.2" fill="#111" font-weight="bold" text-anchor="middle" textLength="14.6" lengthAdjust="spacingAndGlyphs" stroke="#111" stroke-width="0.5">O-OFF</text>
<rect x="564.1" y="826.2" width="16" height="24.2" rx="0" fill="#fff" stroke="#555" stroke-width="0.8"/>
<rect x="581.2" y="827.4" width="17.4" height="23" rx="0" fill="#fff" stroke="#444" stroke-width="0.9"/>
<line x1="581.2" y1="830.4" x2="598.6" y2="830.4" stroke="#666" stroke-width="0.7"/>
<line x1="581.2" y1="838.6" x2="598.6" y2="838.6" stroke="#666" stroke-width="0.7"/>
<line x1="581.2" y1="841.7" x2="598.6" y2="841.7" stroke="#666" stroke-width="0.7"/>
<line x1="581.2" y1="846" x2="598.6" y2="846" stroke="#666" stroke-width="0.7"/>
<rect x="539.8" y="850.4" width="62.6" height="13.4" rx="0" fill="#3a3a3a" stroke="#222" stroke-width="0.6"/>
<rect x="539.8" y="853.8" width="25.3" height="6" rx="0" fill="#8c8c8c" stroke="none" stroke-width="0"/>
<rect x="565.1" y="854.6" width="7.2" height="4.6" rx="0" fill="#6a6a6a" stroke="none" stroke-width="0"/>
<path d="M573.3,856.9 L580.1,854.4 L580.1,859.6 Z" fill="#fff" stroke="none" stroke-width="0"/>
<rect x="580.1" y="855.5" width="22.3" height="3" rx="0" fill="#111" stroke="none" stroke-width="0"/>
<line x1="602.4" y1="853.8" x2="608.7" y2="853.8" stroke="#555" stroke-width="0.7"/>
<line x1="602.4" y1="859.8" x2="608.7" y2="859.8" stroke="#555" stroke-width="0.7"/>
<line x1="538.3" y1="866.2" x2="608.7" y2="866.2" stroke="#2a2a2a" stroke-width="1.1"/>
<rect x="545.1" y="868.7" width="6.8" height="7.8" rx="0" fill="none" stroke="#555" stroke-width="0.8"/>
<text x="548.6" y="876.4" font-size="10" fill="#777" font-weight="bold" text-anchor="middle" stroke="#444" stroke-width="0.35">L</text>
<text x="598.1" y="876.3" font-size="10.2" fill="#505050" font-weight="bold" text-anchor="middle" stroke="#444" stroke-width="0.5">N</text>
<rect x="562.9" y="868.5" width="19.6" height="7.1" rx="2" fill="none" stroke="#444" stroke-width="0.9"/>
<path d="M555.4,866.2 V876.5 H590 V866.2" fill="none" stroke="#444" stroke-width="0.8"/>
<rect x="551" y="896" width="8.8" height="7.3" rx="0" fill="#fff" stroke="#444" stroke-width="0.8"/>
<circle cx="555.4" cy="888.4" r="10.4" fill="#fff" stroke="#333" stroke-width="1.2"/>
<circle cx="555.4" cy="888.4" r="8.3" fill="#fff" stroke="#222" stroke-width="1.6"/>
<line x1="548" y1="887.4" x2="562.8" y2="887.4" stroke="#333" stroke-width="0.7"/>
<line x1="548" y1="889.4" x2="562.8" y2="889.4" stroke="#333" stroke-width="0.7"/>
<line x1="555.4" y1="883.4" x2="555.4" y2="893.4" stroke="#333" stroke-width="2.6"/>
<line x1="555.4" y1="884" x2="555.4" y2="892.8" stroke="#fff" stroke-width="0.9"/>
<line x1="551.2" y1="888.4" x2="559.6" y2="888.4" stroke="#111" stroke-width="1.6"/>
<line x1="555.4" y1="885.2" x2="555.4" y2="891.6" stroke="#111" stroke-width="1.6"/>
<line x1="553.4" y1="886.4" x2="557.4" y2="890.4" stroke="#111" stroke-width="1"/>
<line x1="553.4" y1="890.4" x2="557.4" y2="886.4" stroke="#111" stroke-width="1"/>
<rect x="585.6" y="896" width="8.8" height="7.3" rx="0" fill="#fff" stroke="#444" stroke-width="0.8"/>
<circle cx="590" cy="888.4" r="10.4" fill="#fff" stroke="#333" stroke-width="1.2"/>
<circle cx="590" cy="888.4" r="8.3" fill="#fff" stroke="#222" stroke-width="1.6"/>
<line x1="582.6" y1="887.4" x2="597.4" y2="887.4" stroke="#333" stroke-width="0.7"/>
<line x1="582.6" y1="889.4" x2="597.4" y2="889.4" stroke="#333" stroke-width="0.7"/>
<line x1="590" y1="883.4" x2="590" y2="893.4" stroke="#333" stroke-width="2.6"/>
<line x1="590" y1="884" x2="590" y2="892.8" stroke="#fff" stroke-width="0.9"/>
<line x1="585.8" y1="888.4" x2="594.2" y2="888.4" stroke="#111" stroke-width="1.6"/>
<line x1="590" y1="885.2" x2="590" y2="891.6" stroke="#111" stroke-width="1.6"/>
<line x1="588" y1="886.4" x2="592" y2="890.4" stroke="#111" stroke-width="1"/>
<line x1="588" y1="890.4" x2="592" y2="886.4" stroke="#111" stroke-width="1"/>
</svg>
</body></html>
